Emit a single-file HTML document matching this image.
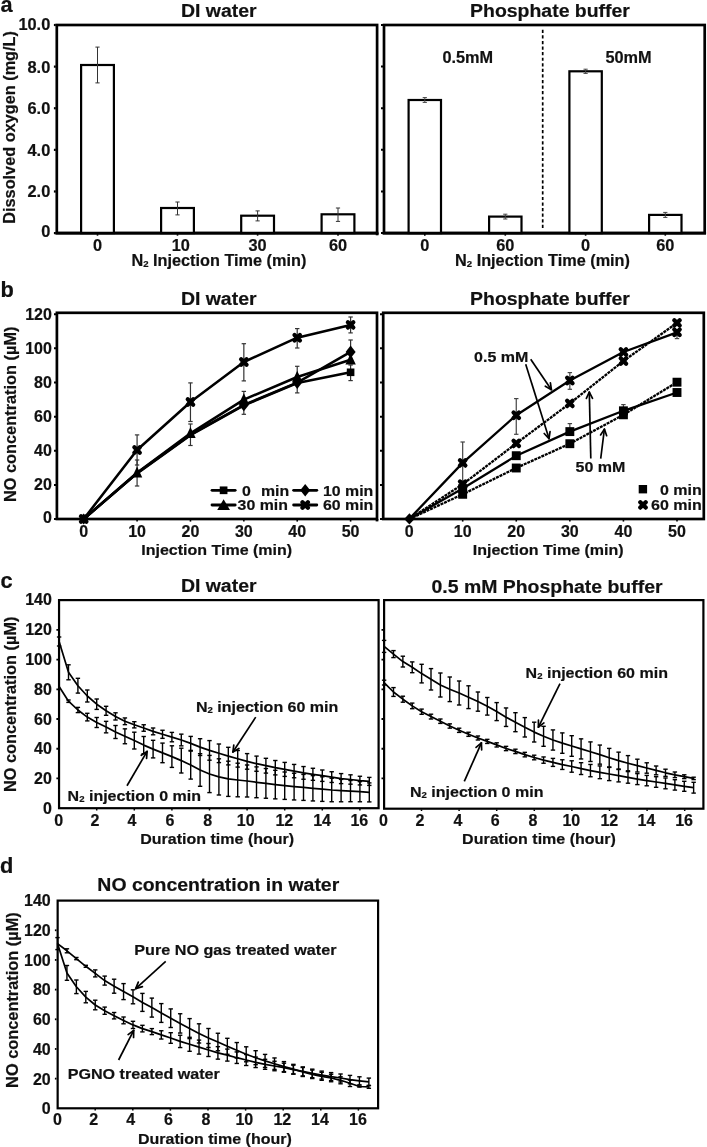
<!DOCTYPE html>
<html><head><meta charset="utf-8"><title>Figure</title>
<style>
html,body{margin:0;padding:0;background:#fff;}
body{width:707px;height:1147px;overflow:hidden;}
svg{display:block;filter:grayscale(1);}
svg text{font-family:"Liberation Sans", Arial, Helvetica, sans-serif;font-weight:bold;fill:#111;stroke:#111;stroke-width:0.2px;stroke-linejoin:round;}
</style></head><body>
<svg width="707" height="1147" viewBox="0 0 707 1147">
<rect width="707" height="1147" fill="#fff"/>
<text x="0.50" y="12.30" font-size="21.7" text-anchor="start" >a</text>
<text transform="translate(218.80,16.70) scale(1.04,1)" font-size="18.7" text-anchor="middle" >DI water</text>
<text transform="translate(550.00,16.70) scale(1.04,1)" font-size="18.7" text-anchor="middle" >Phosphate buffer</text>
<rect x="56.80" y="25.00" width="320.30" height="208.10" fill="none" stroke="#000" stroke-width="2.7"/>
<rect x="384.00" y="25.00" width="320.70" height="208.10" fill="none" stroke="#000" stroke-width="2.7"/>
<text x="50.30" y="237.10" font-size="16.4" text-anchor="end" >0</text>
<line x1="53.90" y1="233.10" x2="55.80" y2="233.10" stroke="#000" stroke-width="2.2" />
<line x1="381.00" y1="233.10" x2="383.00" y2="233.10" stroke="#000" stroke-width="2.0" />
<text x="50.30" y="197.38" font-size="16.4" text-anchor="end" >2.0</text>
<line x1="53.90" y1="191.48" x2="55.80" y2="191.48" stroke="#000" stroke-width="2.2" />
<line x1="381.00" y1="191.48" x2="383.00" y2="191.48" stroke="#000" stroke-width="2.0" />
<text x="50.30" y="155.76" font-size="16.4" text-anchor="end" >4.0</text>
<line x1="53.90" y1="149.86" x2="55.80" y2="149.86" stroke="#000" stroke-width="2.2" />
<line x1="381.00" y1="149.86" x2="383.00" y2="149.86" stroke="#000" stroke-width="2.0" />
<text x="50.30" y="114.14" font-size="16.4" text-anchor="end" >6.0</text>
<line x1="53.90" y1="108.24" x2="55.80" y2="108.24" stroke="#000" stroke-width="2.2" />
<line x1="381.00" y1="108.24" x2="383.00" y2="108.24" stroke="#000" stroke-width="2.0" />
<text x="50.30" y="72.52" font-size="16.4" text-anchor="end" >8.0</text>
<line x1="53.90" y1="66.62" x2="55.80" y2="66.62" stroke="#000" stroke-width="2.2" />
<line x1="381.00" y1="66.62" x2="383.00" y2="66.62" stroke="#000" stroke-width="2.0" />
<text x="50.30" y="30.40" font-size="16.4" text-anchor="end" >10.0</text>
<line x1="53.90" y1="25.00" x2="55.80" y2="25.00" stroke="#000" stroke-width="2.2" />
<line x1="381.00" y1="25.00" x2="383.00" y2="25.00" stroke="#000" stroke-width="2.0" />
<text transform="translate(15.00,127.40) rotate(-90)" font-size="16.3" text-anchor="middle">Dissolved oxygen (mg/L)</text>
<rect x="81.10" y="65.00" width="32.80" height="168.10" fill="#fff" stroke="#000" stroke-width="2.2"/>
<line x1="97.50" y1="47.10" x2="97.50" y2="82.90" stroke="#333" stroke-width="1" />
<line x1="95.40" y1="47.10" x2="99.60" y2="47.10" stroke="#333" stroke-width="1" />
<line x1="95.40" y1="82.90" x2="99.60" y2="82.90" stroke="#333" stroke-width="1" />
<line x1="97.50" y1="234.10" x2="97.50" y2="235.70" stroke="#000" stroke-width="1.6" />
<text transform="translate(97.50,251.40) scale(1.02,1)" font-size="16.0" text-anchor="middle" >0</text>
<rect x="161.10" y="208.00" width="32.80" height="25.10" fill="#fff" stroke="#000" stroke-width="2.2"/>
<line x1="177.50" y1="202.00" x2="177.50" y2="214.90" stroke="#333" stroke-width="1" />
<line x1="175.40" y1="202.00" x2="179.60" y2="202.00" stroke="#333" stroke-width="1" />
<line x1="175.40" y1="214.90" x2="179.60" y2="214.90" stroke="#333" stroke-width="1" />
<line x1="177.50" y1="234.10" x2="177.50" y2="235.70" stroke="#000" stroke-width="1.6" />
<text transform="translate(180.70,251.40) scale(1.02,1)" font-size="16.0" text-anchor="middle" >10</text>
<rect x="241.20" y="215.70" width="32.80" height="17.40" fill="#fff" stroke="#000" stroke-width="2.2"/>
<line x1="257.60" y1="210.90" x2="257.60" y2="220.90" stroke="#333" stroke-width="1" />
<line x1="255.50" y1="210.90" x2="259.70" y2="210.90" stroke="#333" stroke-width="1" />
<line x1="255.50" y1="220.90" x2="259.70" y2="220.90" stroke="#333" stroke-width="1" />
<line x1="257.60" y1="234.10" x2="257.60" y2="235.70" stroke="#000" stroke-width="1.6" />
<text transform="translate(257.60,251.40) scale(1.02,1)" font-size="16.0" text-anchor="middle" >30</text>
<rect x="321.60" y="214.30" width="32.80" height="18.80" fill="#fff" stroke="#000" stroke-width="2.2"/>
<line x1="338.00" y1="208.00" x2="338.00" y2="221.40" stroke="#333" stroke-width="1" />
<line x1="335.90" y1="208.00" x2="340.10" y2="208.00" stroke="#333" stroke-width="1" />
<line x1="335.90" y1="221.40" x2="340.10" y2="221.40" stroke="#333" stroke-width="1" />
<line x1="338.00" y1="234.10" x2="338.00" y2="235.70" stroke="#000" stroke-width="1.6" />
<text transform="translate(338.00,251.40) scale(1.02,1)" font-size="16.0" text-anchor="middle" >60</text>
<rect x="408.60" y="100.00" width="32.40" height="133.10" fill="#fff" stroke="#000" stroke-width="2.2"/>
<line x1="424.80" y1="97.60" x2="424.80" y2="102.40" stroke="#444" stroke-width="1" />
<line x1="422.70" y1="97.60" x2="426.90" y2="97.60" stroke="#444" stroke-width="1" />
<line x1="422.70" y1="102.40" x2="426.90" y2="102.40" stroke="#444" stroke-width="1" />
<line x1="424.80" y1="234.10" x2="424.80" y2="235.70" stroke="#000" stroke-width="1.6" />
<text transform="translate(424.80,251.40) scale(1.02,1)" font-size="16.0" text-anchor="middle" >0</text>
<rect x="489.10" y="216.60" width="32.40" height="16.50" fill="#fff" stroke="#000" stroke-width="2.2"/>
<line x1="505.30" y1="214.20" x2="505.30" y2="219.00" stroke="#444" stroke-width="1" />
<line x1="503.20" y1="214.20" x2="507.40" y2="214.20" stroke="#444" stroke-width="1" />
<line x1="503.20" y1="219.00" x2="507.40" y2="219.00" stroke="#444" stroke-width="1" />
<line x1="505.30" y1="234.10" x2="505.30" y2="235.70" stroke="#000" stroke-width="1.6" />
<text transform="translate(505.30,251.40) scale(1.02,1)" font-size="16.0" text-anchor="middle" >60</text>
<rect x="569.40" y="71.30" width="32.40" height="161.80" fill="#fff" stroke="#000" stroke-width="2.2"/>
<line x1="585.60" y1="69.20" x2="585.60" y2="73.40" stroke="#444" stroke-width="1" />
<line x1="583.50" y1="69.20" x2="587.70" y2="69.20" stroke="#444" stroke-width="1" />
<line x1="583.50" y1="73.40" x2="587.70" y2="73.40" stroke="#444" stroke-width="1" />
<line x1="585.60" y1="234.10" x2="585.60" y2="235.70" stroke="#000" stroke-width="1.6" />
<text transform="translate(585.60,251.40) scale(1.02,1)" font-size="16.0" text-anchor="middle" >0</text>
<rect x="649.10" y="214.90" width="32.40" height="18.20" fill="#fff" stroke="#000" stroke-width="2.2"/>
<line x1="665.30" y1="212.40" x2="665.30" y2="217.40" stroke="#444" stroke-width="1" />
<line x1="663.20" y1="212.40" x2="667.40" y2="212.40" stroke="#444" stroke-width="1" />
<line x1="663.20" y1="217.40" x2="667.40" y2="217.40" stroke="#444" stroke-width="1" />
<line x1="665.30" y1="234.10" x2="665.30" y2="235.70" stroke="#000" stroke-width="1.6" />
<text transform="translate(665.30,251.40) scale(1.02,1)" font-size="16.0" text-anchor="middle" >60</text>
<line x1="55.65" y1="233.10" x2="378.45" y2="233.10" stroke="#000" stroke-width="2.7" />
<line x1="382.65" y1="233.10" x2="706.05" y2="233.10" stroke="#000" stroke-width="2.7" />
<line x1="377.10" y1="233.10" x2="377.10" y2="235.30" stroke="#000" stroke-width="2.7" />
<text transform="translate(218.90,266.20) scale(1.04,1)" font-size="15.65" text-anchor="middle" >N<tspan font-size="9.2" dy="1">2</tspan><tspan dy="-1"> </tspan>Injection Time (min)</text>
<text transform="translate(542.50,266.20) scale(1.04,1)" font-size="15.65" text-anchor="middle" >N<tspan font-size="9.2" dy="1">2</tspan><tspan dy="-1"> </tspan>Injection Time (min)</text>
<line x1="542.70" y1="29.80" x2="542.70" y2="229.50" stroke="#000" stroke-width="1.7" stroke-dasharray="3.2 2.37"/>
<text x="467.80" y="62.60" font-size="16.3" text-anchor="middle" >0.5mM</text>
<text x="628.50" y="62.60" font-size="16.3" text-anchor="middle" >50mM</text>
<text x="0.60" y="297.30" font-size="21.8" text-anchor="start" >b</text>
<text transform="translate(218.70,305.00) scale(1.04,1)" font-size="18.7" text-anchor="middle" >DI water</text>
<text transform="translate(550.00,305.00) scale(1.04,1)" font-size="18.7" text-anchor="middle" >Phosphate buffer</text>
<rect x="56.90" y="312.80" width="320.10" height="206.20" fill="none" stroke="#000" stroke-width="2.7"/>
<rect x="383.20" y="312.80" width="320.60" height="206.20" fill="none" stroke="#000" stroke-width="2.7"/>
<line x1="377.00" y1="519.00" x2="377.00" y2="521.40" stroke="#000" stroke-width="2.7" />
<text x="51.90" y="523.40" font-size="16.0" text-anchor="end" >0</text>
<line x1="54.00" y1="519.10" x2="56.00" y2="519.10" stroke="#000" stroke-width="2.0" />
<line x1="380.00" y1="519.10" x2="382.00" y2="519.10" stroke="#000" stroke-width="2.0" />
<text x="51.90" y="490.45" font-size="16.0" text-anchor="end" >20</text>
<line x1="54.00" y1="484.95" x2="56.00" y2="484.95" stroke="#000" stroke-width="2.0" />
<line x1="380.00" y1="484.95" x2="382.00" y2="484.95" stroke="#000" stroke-width="2.0" />
<text x="51.90" y="456.30" font-size="16.0" text-anchor="end" >40</text>
<line x1="54.00" y1="450.80" x2="56.00" y2="450.80" stroke="#000" stroke-width="2.0" />
<line x1="380.00" y1="450.80" x2="382.00" y2="450.80" stroke="#000" stroke-width="2.0" />
<text x="51.90" y="422.15" font-size="16.0" text-anchor="end" >60</text>
<line x1="54.00" y1="416.65" x2="56.00" y2="416.65" stroke="#000" stroke-width="2.0" />
<line x1="380.00" y1="416.65" x2="382.00" y2="416.65" stroke="#000" stroke-width="2.0" />
<text x="51.90" y="388.00" font-size="16.0" text-anchor="end" >80</text>
<line x1="54.00" y1="382.50" x2="56.00" y2="382.50" stroke="#000" stroke-width="2.0" />
<line x1="380.00" y1="382.50" x2="382.00" y2="382.50" stroke="#000" stroke-width="2.0" />
<text x="51.90" y="353.85" font-size="16.0" text-anchor="end" >100</text>
<line x1="54.00" y1="348.35" x2="56.00" y2="348.35" stroke="#000" stroke-width="2.0" />
<line x1="380.00" y1="348.35" x2="382.00" y2="348.35" stroke="#000" stroke-width="2.0" />
<text x="51.90" y="319.70" font-size="16.0" text-anchor="end" >120</text>
<line x1="54.00" y1="314.20" x2="56.00" y2="314.20" stroke="#000" stroke-width="2.0" />
<line x1="380.00" y1="314.20" x2="382.00" y2="314.20" stroke="#000" stroke-width="2.0" />
<text transform="translate(16.00,414.30) rotate(-90)" font-size="16.35" text-anchor="middle">NO concentration (µM)</text>
<text x="83.70" y="536.60" font-size="16.0" text-anchor="middle" >0</text>
<line x1="83.70" y1="520.00" x2="83.70" y2="521.60" stroke="#000" stroke-width="1.6" />
<text x="137.08" y="536.60" font-size="16.0" text-anchor="middle" >10</text>
<line x1="137.08" y1="520.00" x2="137.08" y2="521.60" stroke="#000" stroke-width="1.6" />
<text x="190.46" y="536.60" font-size="16.0" text-anchor="middle" >20</text>
<line x1="190.46" y1="520.00" x2="190.46" y2="521.60" stroke="#000" stroke-width="1.6" />
<text x="243.84" y="536.60" font-size="16.0" text-anchor="middle" >30</text>
<line x1="243.84" y1="520.00" x2="243.84" y2="521.60" stroke="#000" stroke-width="1.6" />
<text x="297.22" y="536.60" font-size="16.0" text-anchor="middle" >40</text>
<line x1="297.22" y1="520.00" x2="297.22" y2="521.60" stroke="#000" stroke-width="1.6" />
<text x="350.60" y="536.60" font-size="16.0" text-anchor="middle" >50</text>
<line x1="350.60" y1="520.00" x2="350.60" y2="521.60" stroke="#000" stroke-width="1.6" />
<text x="409.10" y="536.60" font-size="16.0" text-anchor="middle" >0</text>
<line x1="409.10" y1="520.00" x2="409.10" y2="521.60" stroke="#000" stroke-width="1.6" />
<text x="462.68" y="536.60" font-size="16.0" text-anchor="middle" >10</text>
<line x1="462.68" y1="520.00" x2="462.68" y2="521.60" stroke="#000" stroke-width="1.6" />
<text x="516.26" y="536.60" font-size="16.0" text-anchor="middle" >20</text>
<line x1="516.26" y1="520.00" x2="516.26" y2="521.60" stroke="#000" stroke-width="1.6" />
<text x="569.84" y="536.60" font-size="16.0" text-anchor="middle" >30</text>
<line x1="569.84" y1="520.00" x2="569.84" y2="521.60" stroke="#000" stroke-width="1.6" />
<text x="623.42" y="536.60" font-size="16.0" text-anchor="middle" >40</text>
<line x1="623.42" y1="520.00" x2="623.42" y2="521.60" stroke="#000" stroke-width="1.6" />
<text x="677.00" y="536.60" font-size="16.0" text-anchor="middle" >50</text>
<line x1="677.00" y1="520.00" x2="677.00" y2="521.60" stroke="#000" stroke-width="1.6" />
<text transform="translate(216.70,554.50) scale(1.04,1)" font-size="15.4" text-anchor="middle" >Injection Time (min)</text>
<text transform="translate(548.20,554.50) scale(1.04,1)" font-size="15.4" text-anchor="middle" >Injection Time (min)</text>
<line x1="137.08" y1="434.90" x2="137.08" y2="465.00" stroke="#333" stroke-width="1.2" />
<line x1="134.88" y1="434.90" x2="139.28" y2="434.90" stroke="#333" stroke-width="1.2" />
<line x1="134.88" y1="465.00" x2="139.28" y2="465.00" stroke="#333" stroke-width="1.2" />
<line x1="190.46" y1="382.90" x2="190.46" y2="421.50" stroke="#333" stroke-width="1.2" />
<line x1="188.26" y1="382.90" x2="192.66" y2="382.90" stroke="#333" stroke-width="1.2" />
<line x1="188.26" y1="421.50" x2="192.66" y2="421.50" stroke="#333" stroke-width="1.2" />
<line x1="243.84" y1="343.70" x2="243.84" y2="380.90" stroke="#333" stroke-width="1.2" />
<line x1="241.64" y1="343.70" x2="246.04" y2="343.70" stroke="#333" stroke-width="1.2" />
<line x1="241.64" y1="380.90" x2="246.04" y2="380.90" stroke="#333" stroke-width="1.2" />
<line x1="297.22" y1="328.60" x2="297.22" y2="348.00" stroke="#333" stroke-width="1.2" />
<line x1="295.02" y1="328.60" x2="299.42" y2="328.60" stroke="#333" stroke-width="1.2" />
<line x1="295.02" y1="348.00" x2="299.42" y2="348.00" stroke="#333" stroke-width="1.2" />
<line x1="350.60" y1="317.00" x2="350.60" y2="332.90" stroke="#333" stroke-width="1.2" />
<line x1="348.40" y1="317.00" x2="352.80" y2="317.00" stroke="#333" stroke-width="1.2" />
<line x1="348.40" y1="332.90" x2="352.80" y2="332.90" stroke="#333" stroke-width="1.2" />
<line x1="137.08" y1="460.00" x2="137.08" y2="486.00" stroke="#333" stroke-width="1.2" />
<line x1="134.88" y1="460.00" x2="139.28" y2="460.00" stroke="#333" stroke-width="1.2" />
<line x1="134.88" y1="486.00" x2="139.28" y2="486.00" stroke="#333" stroke-width="1.2" />
<line x1="190.46" y1="424.00" x2="190.46" y2="445.50" stroke="#333" stroke-width="1.2" />
<line x1="188.26" y1="424.00" x2="192.66" y2="424.00" stroke="#333" stroke-width="1.2" />
<line x1="188.26" y1="445.50" x2="192.66" y2="445.50" stroke="#333" stroke-width="1.2" />
<line x1="243.84" y1="391.40" x2="243.84" y2="414.30" stroke="#333" stroke-width="1.2" />
<line x1="241.64" y1="391.40" x2="246.04" y2="391.40" stroke="#333" stroke-width="1.2" />
<line x1="241.64" y1="414.30" x2="246.04" y2="414.30" stroke="#333" stroke-width="1.2" />
<line x1="297.22" y1="366.30" x2="297.22" y2="392.90" stroke="#333" stroke-width="1.2" />
<line x1="295.02" y1="366.30" x2="299.42" y2="366.30" stroke="#333" stroke-width="1.2" />
<line x1="295.02" y1="392.90" x2="299.42" y2="392.90" stroke="#333" stroke-width="1.2" />
<line x1="350.60" y1="340.00" x2="350.60" y2="362.00" stroke="#333" stroke-width="1.2" />
<line x1="348.40" y1="340.00" x2="352.80" y2="340.00" stroke="#333" stroke-width="1.2" />
<line x1="348.40" y1="362.00" x2="352.80" y2="362.00" stroke="#333" stroke-width="1.2" />
<line x1="350.60" y1="365.00" x2="350.60" y2="380.60" stroke="#333" stroke-width="1.2" />
<line x1="348.40" y1="365.00" x2="352.80" y2="365.00" stroke="#333" stroke-width="1.2" />
<line x1="348.40" y1="380.60" x2="352.80" y2="380.60" stroke="#333" stroke-width="1.2" />
<polyline points="83.70,519.00 137.08,473.40 190.46,435.20 243.84,405.40 297.22,383.00 350.60,372.30" fill="none" stroke="#000" stroke-width="2.55" stroke-linejoin="round" />
<polyline points="83.70,519.00 137.08,472.70 190.46,433.40 243.84,399.60 297.22,377.00 350.60,359.70" fill="none" stroke="#000" stroke-width="2.55" stroke-linejoin="round" />
<polyline points="83.70,519.00 137.08,473.00 190.46,434.60 243.84,405.00 297.22,382.60 350.60,351.90" fill="none" stroke="#000" stroke-width="2.55" stroke-linejoin="round" />
<polyline points="83.70,519.00 137.08,450.00 190.46,402.00 243.84,362.00 297.22,337.70 350.60,324.90" fill="none" stroke="#000" stroke-width="2.55" stroke-linejoin="round" />
<rect x="346.80" y="368.50" width="7.6" height="7.6" fill="#000"/>
<polygon points="78.70,519.00 83.70,513.40 88.70,519.00 83.70,524.60" fill="#000"/>
<polygon points="238.84,405.00 243.84,398.70 248.84,405.00 243.84,411.30" fill="#000"/>
<polygon points="292.22,382.60 297.22,376.30 302.22,382.60 297.22,388.90" fill="#000"/>
<polygon points="345.60,351.90 350.60,345.60 355.60,351.90 350.60,358.20" fill="#000"/>
<polygon points="131.88,477.40 137.08,466.40 142.28,477.40" fill="#000"/>
<polygon points="185.26,438.10 190.46,427.10 195.66,438.10" fill="#000"/>
<polygon points="238.64,404.30 243.84,393.30 249.04,404.30" fill="#000"/>
<polygon points="292.02,381.70 297.22,370.70 302.42,381.70" fill="#000"/>
<polygon points="345.40,364.40 350.60,353.40 355.80,364.40" fill="#000"/>
<line x1="81.00" y1="516.30" x2="86.40" y2="521.70" stroke="#000" stroke-width="4.3" stroke-linecap="round"/>
<line x1="81.00" y1="521.70" x2="86.40" y2="516.30" stroke="#000" stroke-width="4.3" stroke-linecap="round"/>
<line x1="134.38" y1="447.30" x2="139.78" y2="452.70" stroke="#000" stroke-width="4.3" stroke-linecap="round"/>
<line x1="134.38" y1="452.70" x2="139.78" y2="447.30" stroke="#000" stroke-width="4.3" stroke-linecap="round"/>
<line x1="187.76" y1="399.30" x2="193.16" y2="404.70" stroke="#000" stroke-width="4.3" stroke-linecap="round"/>
<line x1="187.76" y1="404.70" x2="193.16" y2="399.30" stroke="#000" stroke-width="4.3" stroke-linecap="round"/>
<line x1="241.14" y1="359.30" x2="246.54" y2="364.70" stroke="#000" stroke-width="4.3" stroke-linecap="round"/>
<line x1="241.14" y1="364.70" x2="246.54" y2="359.30" stroke="#000" stroke-width="4.3" stroke-linecap="round"/>
<line x1="294.52" y1="335.00" x2="299.92" y2="340.40" stroke="#000" stroke-width="4.3" stroke-linecap="round"/>
<line x1="294.52" y1="340.40" x2="299.92" y2="335.00" stroke="#000" stroke-width="4.3" stroke-linecap="round"/>
<line x1="347.90" y1="322.20" x2="353.30" y2="327.60" stroke="#000" stroke-width="4.3" stroke-linecap="round"/>
<line x1="347.90" y1="327.60" x2="353.30" y2="322.20" stroke="#000" stroke-width="4.3" stroke-linecap="round"/>
<line x1="212.00" y1="490.30" x2="235.20" y2="490.30" stroke="#000" stroke-width="2.8" stroke-linecap="round"/>
<rect x="219.75" y="486.45" width="7.7" height="7.7" fill="#000"/>
<text transform="translate(242.00,495.50) scale(1.065,1)" font-size="14.9" text-anchor="start" >0</text>
<line x1="212.00" y1="505.00" x2="235.20" y2="505.00" stroke="#000" stroke-width="2.8" stroke-linecap="round"/>
<polygon points="217.20,510.00 223.60,499.30 230.00,510.00" fill="#000"/>
<text transform="translate(237.60,510.20) scale(1.065,1)" font-size="14.9" text-anchor="start" >30 min</text>
<line x1="293.60" y1="490.30" x2="316.80" y2="490.30" stroke="#000" stroke-width="2.8" stroke-linecap="round"/>
<polygon points="300.20,490.30 305.20,484.00 310.20,490.30 305.20,496.60" fill="#000"/>
<text transform="translate(323.00,495.50) scale(1.065,1)" font-size="14.9" text-anchor="start" >10 min</text>
<line x1="293.60" y1="505.00" x2="316.80" y2="505.00" stroke="#000" stroke-width="2.8" stroke-linecap="round"/>
<line x1="302.50" y1="502.30" x2="307.90" y2="507.70" stroke="#000" stroke-width="4.3" stroke-linecap="round"/>
<line x1="302.50" y1="507.70" x2="307.90" y2="502.30" stroke="#000" stroke-width="4.3" stroke-linecap="round"/>
<text transform="translate(323.00,510.20) scale(1.065,1)" font-size="14.9" text-anchor="start" >60 min</text>
<text transform="translate(261.00,495.50) scale(1.065,1)" font-size="14.9" text-anchor="start" >min</text>
<line x1="462.68" y1="442.00" x2="462.68" y2="481.00" stroke="#444" stroke-width="1.2" />
<line x1="460.48" y1="442.00" x2="464.88" y2="442.00" stroke="#444" stroke-width="1.2" />
<line x1="460.48" y1="481.00" x2="464.88" y2="481.00" stroke="#444" stroke-width="1.2" />
<line x1="516.26" y1="398.60" x2="516.26" y2="434.30" stroke="#444" stroke-width="1.2" />
<line x1="514.06" y1="398.60" x2="518.46" y2="398.60" stroke="#444" stroke-width="1.2" />
<line x1="514.06" y1="434.30" x2="518.46" y2="434.30" stroke="#444" stroke-width="1.2" />
<line x1="569.84" y1="372.60" x2="569.84" y2="389.30" stroke="#444" stroke-width="1.2" />
<line x1="567.64" y1="372.60" x2="572.04" y2="372.60" stroke="#444" stroke-width="1.2" />
<line x1="567.64" y1="389.30" x2="572.04" y2="389.30" stroke="#444" stroke-width="1.2" />
<line x1="677.00" y1="330.00" x2="677.00" y2="338.60" stroke="#444" stroke-width="1.2" />
<line x1="674.80" y1="330.00" x2="679.20" y2="330.00" stroke="#444" stroke-width="1.2" />
<line x1="674.80" y1="338.60" x2="679.20" y2="338.60" stroke="#444" stroke-width="1.2" />
<line x1="569.84" y1="423.60" x2="569.84" y2="431.00" stroke="#444" stroke-width="1.2" />
<line x1="567.64" y1="423.60" x2="572.04" y2="423.60" stroke="#444" stroke-width="1.2" />
<line x1="567.64" y1="431.00" x2="572.04" y2="431.00" stroke="#444" stroke-width="1.2" />
<line x1="623.42" y1="404.60" x2="623.42" y2="412.00" stroke="#444" stroke-width="1.2" />
<line x1="621.22" y1="404.60" x2="625.62" y2="404.60" stroke="#444" stroke-width="1.2" />
<line x1="621.22" y1="412.00" x2="625.62" y2="412.00" stroke="#444" stroke-width="1.2" />
<polyline points="409.10,519.10 462.68,488.60 516.26,455.70 569.84,431.60 623.42,410.80 677.00,392.50" fill="none" stroke="#000" stroke-width="2.3" stroke-linejoin="round" />
<polyline points="409.10,519.10 462.68,462.90 516.26,415.20 569.84,380.50 623.42,352.00 677.00,332.30" fill="none" stroke="#000" stroke-width="2.3" stroke-linejoin="round" />
<polyline points="409.10,519.10 462.68,494.30 516.26,468.00 569.84,443.70 623.42,414.80 677.00,382.20" fill="none" stroke="#000" stroke-width="2.3" stroke-linejoin="round" stroke-dasharray="3.0 0.85"/>
<polyline points="409.10,519.10 462.68,484.30 516.26,443.40 569.84,403.40 623.42,361.00 677.00,322.90" fill="none" stroke="#000" stroke-width="2.3" stroke-linejoin="round" stroke-dasharray="3.0 0.85"/>
<rect x="458.23" y="484.15" width="8.9" height="8.9" fill="#000"/>
<rect x="511.81" y="451.25" width="8.9" height="8.9" fill="#000"/>
<rect x="565.39" y="427.15" width="8.9" height="8.9" fill="#000"/>
<rect x="618.97" y="406.35" width="8.9" height="8.9" fill="#000"/>
<rect x="672.55" y="388.05" width="8.9" height="8.9" fill="#000"/>
<rect x="458.23" y="489.85" width="8.9" height="8.9" fill="#000"/>
<rect x="511.81" y="463.55" width="8.9" height="8.9" fill="#000"/>
<rect x="565.39" y="439.25" width="8.9" height="8.9" fill="#000"/>
<rect x="618.97" y="410.35" width="8.9" height="8.9" fill="#000"/>
<rect x="672.55" y="377.75" width="8.9" height="8.9" fill="#000"/>
<line x1="459.98" y1="460.20" x2="465.38" y2="465.60" stroke="#000" stroke-width="4.3" stroke-linecap="round"/>
<line x1="459.98" y1="465.60" x2="465.38" y2="460.20" stroke="#000" stroke-width="4.3" stroke-linecap="round"/>
<line x1="513.56" y1="412.50" x2="518.96" y2="417.90" stroke="#000" stroke-width="4.3" stroke-linecap="round"/>
<line x1="513.56" y1="417.90" x2="518.96" y2="412.50" stroke="#000" stroke-width="4.3" stroke-linecap="round"/>
<line x1="567.14" y1="377.80" x2="572.54" y2="383.20" stroke="#000" stroke-width="4.3" stroke-linecap="round"/>
<line x1="567.14" y1="383.20" x2="572.54" y2="377.80" stroke="#000" stroke-width="4.3" stroke-linecap="round"/>
<line x1="620.72" y1="349.30" x2="626.12" y2="354.70" stroke="#000" stroke-width="4.3" stroke-linecap="round"/>
<line x1="620.72" y1="354.70" x2="626.12" y2="349.30" stroke="#000" stroke-width="4.3" stroke-linecap="round"/>
<line x1="674.30" y1="329.60" x2="679.70" y2="335.00" stroke="#000" stroke-width="4.3" stroke-linecap="round"/>
<line x1="674.30" y1="335.00" x2="679.70" y2="329.60" stroke="#000" stroke-width="4.3" stroke-linecap="round"/>
<line x1="459.98" y1="481.60" x2="465.38" y2="487.00" stroke="#000" stroke-width="4.3" stroke-linecap="round"/>
<line x1="459.98" y1="487.00" x2="465.38" y2="481.60" stroke="#000" stroke-width="4.3" stroke-linecap="round"/>
<line x1="513.56" y1="440.70" x2="518.96" y2="446.10" stroke="#000" stroke-width="4.3" stroke-linecap="round"/>
<line x1="513.56" y1="446.10" x2="518.96" y2="440.70" stroke="#000" stroke-width="4.3" stroke-linecap="round"/>
<line x1="567.14" y1="400.70" x2="572.54" y2="406.10" stroke="#000" stroke-width="4.3" stroke-linecap="round"/>
<line x1="567.14" y1="406.10" x2="572.54" y2="400.70" stroke="#000" stroke-width="4.3" stroke-linecap="round"/>
<line x1="620.72" y1="358.30" x2="626.12" y2="363.70" stroke="#000" stroke-width="4.3" stroke-linecap="round"/>
<line x1="620.72" y1="363.70" x2="626.12" y2="358.30" stroke="#000" stroke-width="4.3" stroke-linecap="round"/>
<line x1="674.30" y1="320.20" x2="679.70" y2="325.60" stroke="#000" stroke-width="4.3" stroke-linecap="round"/>
<line x1="674.30" y1="325.60" x2="679.70" y2="320.20" stroke="#000" stroke-width="4.3" stroke-linecap="round"/>
<polygon points="404.20,518.90 409.40,513.20 414.60,518.90 409.40,524.60" fill="#000"/>
<text transform="translate(501.20,361.50) scale(1.04,1)" font-size="15.4" text-anchor="middle" >0.5 mM</text>
<line x1="530.70" y1="359.30" x2="551.40" y2="389.70" stroke="#000" stroke-width="1.7" />
<line x1="551.40" y1="389.70" x2="545.32" y2="386.23" stroke="#000" stroke-width="1.7" stroke-linecap="round"/>
<line x1="551.40" y1="389.70" x2="550.40" y2="382.77" stroke="#000" stroke-width="1.7" stroke-linecap="round"/>
<line x1="525.70" y1="364.30" x2="549.00" y2="438.60" stroke="#000" stroke-width="1.7" />
<line x1="549.00" y1="438.60" x2="544.19" y2="433.51" stroke="#000" stroke-width="1.7" stroke-linecap="round"/>
<line x1="549.00" y1="438.60" x2="550.05" y2="431.68" stroke="#000" stroke-width="1.7" stroke-linecap="round"/>
<text transform="translate(600.40,472.40) scale(1.04,1)" font-size="15.4" text-anchor="middle" >50 mM</text>
<line x1="590.80" y1="458.60" x2="589.30" y2="392.10" stroke="#000" stroke-width="1.7" />
<line x1="589.30" y1="392.10" x2="592.51" y2="398.32" stroke="#000" stroke-width="1.7" stroke-linecap="round"/>
<line x1="589.30" y1="392.10" x2="586.37" y2="398.46" stroke="#000" stroke-width="1.7" stroke-linecap="round"/>
<line x1="600.70" y1="458.60" x2="604.40" y2="429.10" stroke="#000" stroke-width="1.7" />
<line x1="604.40" y1="429.10" x2="606.66" y2="435.72" stroke="#000" stroke-width="1.7" stroke-linecap="round"/>
<line x1="604.40" y1="429.10" x2="600.57" y2="434.96" stroke="#000" stroke-width="1.7" stroke-linecap="round"/>
<rect x="638.70" y="485.00" width="8.4" height="8.4" fill="#000"/>
<text transform="translate(701.80,494.80) scale(1.04,1)" font-size="15.4" text-anchor="end" >0 min</text>
<line x1="640.30" y1="502.20" x2="645.70" y2="507.60" stroke="#000" stroke-width="4.3" stroke-linecap="round"/>
<line x1="640.30" y1="507.60" x2="645.70" y2="502.20" stroke="#000" stroke-width="4.3" stroke-linecap="round"/>
<text transform="translate(701.80,510.40) scale(1.04,1)" font-size="15.4" text-anchor="end" >60 min</text>
<text x="0.50" y="587.90" font-size="21.8" text-anchor="start" >c</text>
<text transform="translate(218.70,591.80) scale(1.04,1)" font-size="18.7" text-anchor="middle" >DI water</text>
<text transform="translate(547.00,592.80) scale(1.04,1)" font-size="18.7" text-anchor="middle" >0.5 mM Phosphate buffer</text>
<rect x="59.05" y="600.10" width="319.55" height="208.10" fill="none" stroke="#000" stroke-width="2.2"/>
<rect x="384.10" y="600.10" width="319.30" height="208.60" fill="none" stroke="#000" stroke-width="2.2"/>
<text x="51.90" y="813.95" font-size="16.0" text-anchor="end" >0</text>
<text x="51.90" y="784.14" font-size="16.0" text-anchor="end" >20</text>
<line x1="56.40" y1="778.47" x2="58.00" y2="778.47" stroke="#000" stroke-width="1.8" />
<line x1="381.50" y1="778.47" x2="383.00" y2="778.47" stroke="#000" stroke-width="1.8" />
<text x="51.90" y="754.32" font-size="16.0" text-anchor="end" >40</text>
<line x1="56.40" y1="748.74" x2="58.00" y2="748.74" stroke="#000" stroke-width="1.8" />
<line x1="381.50" y1="748.74" x2="383.00" y2="748.74" stroke="#000" stroke-width="1.8" />
<text x="51.90" y="724.51" font-size="16.0" text-anchor="end" >60</text>
<line x1="56.40" y1="719.01" x2="58.00" y2="719.01" stroke="#000" stroke-width="1.8" />
<line x1="381.50" y1="719.01" x2="383.00" y2="719.01" stroke="#000" stroke-width="1.8" />
<text x="51.90" y="694.69" font-size="16.0" text-anchor="end" >80</text>
<line x1="56.40" y1="689.29" x2="58.00" y2="689.29" stroke="#000" stroke-width="1.8" />
<line x1="381.50" y1="689.29" x2="383.00" y2="689.29" stroke="#000" stroke-width="1.8" />
<text x="51.90" y="664.88" font-size="16.0" text-anchor="end" >100</text>
<line x1="56.40" y1="659.56" x2="58.00" y2="659.56" stroke="#000" stroke-width="1.8" />
<line x1="381.50" y1="659.56" x2="383.00" y2="659.56" stroke="#000" stroke-width="1.8" />
<text x="51.90" y="635.06" font-size="16.0" text-anchor="end" >120</text>
<line x1="56.40" y1="629.83" x2="58.00" y2="629.83" stroke="#000" stroke-width="1.8" />
<line x1="381.50" y1="629.83" x2="383.00" y2="629.83" stroke="#000" stroke-width="1.8" />
<text x="51.90" y="605.25" font-size="16.0" text-anchor="end" >140</text>
<text transform="translate(16.00,704.30) rotate(-90)" font-size="16.35" text-anchor="middle">NO concentration (µM)</text>
<text x="58.60" y="825.50" font-size="16.0" text-anchor="middle" >0</text>
<text x="383.40" y="825.50" font-size="16.0" text-anchor="middle" >0</text>
<text x="94.90" y="825.50" font-size="16.0" text-anchor="middle" >2</text>
<text x="420.00" y="825.50" font-size="16.0" text-anchor="middle" >2</text>
<line x1="96.70" y1="809.00" x2="96.70" y2="810.50" stroke="#000" stroke-width="1.5" />
<line x1="421.50" y1="809.50" x2="421.50" y2="811.00" stroke="#000" stroke-width="1.5" />
<text x="132.00" y="825.50" font-size="16.0" text-anchor="middle" >4</text>
<text x="458.00" y="825.50" font-size="16.0" text-anchor="middle" >4</text>
<line x1="134.30" y1="809.00" x2="134.30" y2="810.50" stroke="#000" stroke-width="1.5" />
<line x1="459.10" y1="809.50" x2="459.10" y2="811.00" stroke="#000" stroke-width="1.5" />
<text x="170.00" y="825.50" font-size="16.0" text-anchor="middle" >6</text>
<text x="495.10" y="825.50" font-size="16.0" text-anchor="middle" >6</text>
<line x1="171.90" y1="809.00" x2="171.90" y2="810.50" stroke="#000" stroke-width="1.5" />
<line x1="496.70" y1="809.50" x2="496.70" y2="811.00" stroke="#000" stroke-width="1.5" />
<text x="207.70" y="825.50" font-size="16.0" text-anchor="middle" >8</text>
<text x="532.90" y="825.50" font-size="16.0" text-anchor="middle" >8</text>
<line x1="209.50" y1="809.00" x2="209.50" y2="810.50" stroke="#000" stroke-width="1.5" />
<line x1="534.30" y1="809.50" x2="534.30" y2="811.00" stroke="#000" stroke-width="1.5" />
<text x="245.70" y="825.50" font-size="16.0" text-anchor="middle" >10</text>
<text x="571.30" y="825.50" font-size="16.0" text-anchor="middle" >10</text>
<line x1="247.10" y1="809.00" x2="247.10" y2="810.50" stroke="#000" stroke-width="1.5" />
<line x1="571.90" y1="809.50" x2="571.90" y2="811.00" stroke="#000" stroke-width="1.5" />
<text x="284.30" y="825.50" font-size="16.0" text-anchor="middle" >12</text>
<text x="609.30" y="825.50" font-size="16.0" text-anchor="middle" >12</text>
<line x1="284.70" y1="809.00" x2="284.70" y2="810.50" stroke="#000" stroke-width="1.5" />
<line x1="609.50" y1="809.50" x2="609.50" y2="811.00" stroke="#000" stroke-width="1.5" />
<text x="322.10" y="825.50" font-size="16.0" text-anchor="middle" >14</text>
<text x="646.40" y="825.50" font-size="16.0" text-anchor="middle" >14</text>
<line x1="322.30" y1="809.00" x2="322.30" y2="810.50" stroke="#000" stroke-width="1.5" />
<line x1="647.10" y1="809.50" x2="647.10" y2="811.00" stroke="#000" stroke-width="1.5" />
<text x="359.30" y="825.50" font-size="16.0" text-anchor="middle" >16</text>
<text x="684.10" y="825.50" font-size="16.0" text-anchor="middle" >16</text>
<line x1="359.90" y1="809.00" x2="359.90" y2="810.50" stroke="#000" stroke-width="1.5" />
<line x1="684.70" y1="809.50" x2="684.70" y2="811.00" stroke="#000" stroke-width="1.5" />
<text transform="translate(217.20,843.90) scale(1.04,1)" font-size="15.4" text-anchor="middle" >Duration time (hour)</text>
<text transform="translate(539.00,843.90) scale(1.04,1)" font-size="15.4" text-anchor="middle" >Duration time (hour)</text>
<line x1="68.50" y1="700.00" x2="68.50" y2="702.40" stroke="#000" stroke-width="1.4" />
<line x1="66.30" y1="700.00" x2="70.70" y2="700.00" stroke="#000" stroke-width="1.4" />
<line x1="66.30" y1="702.40" x2="70.70" y2="702.40" stroke="#000" stroke-width="1.4" />
<line x1="77.90" y1="707.40" x2="77.90" y2="712.60" stroke="#000" stroke-width="1.4" />
<line x1="75.70" y1="707.40" x2="80.10" y2="707.40" stroke="#000" stroke-width="1.4" />
<line x1="75.70" y1="712.60" x2="80.10" y2="712.60" stroke="#000" stroke-width="1.4" />
<line x1="87.30" y1="713.30" x2="87.30" y2="720.90" stroke="#000" stroke-width="1.4" />
<line x1="85.10" y1="713.30" x2="89.50" y2="713.30" stroke="#000" stroke-width="1.4" />
<line x1="85.10" y1="720.90" x2="89.50" y2="720.90" stroke="#000" stroke-width="1.4" />
<line x1="96.70" y1="717.50" x2="96.70" y2="727.50" stroke="#000" stroke-width="1.4" />
<line x1="94.50" y1="717.50" x2="98.90" y2="717.50" stroke="#000" stroke-width="1.4" />
<line x1="94.50" y1="727.50" x2="98.90" y2="727.50" stroke="#000" stroke-width="1.4" />
<line x1="106.10" y1="721.35" x2="106.10" y2="732.85" stroke="#000" stroke-width="1.4" />
<line x1="103.90" y1="721.35" x2="108.30" y2="721.35" stroke="#000" stroke-width="1.4" />
<line x1="103.90" y1="732.85" x2="108.30" y2="732.85" stroke="#000" stroke-width="1.4" />
<line x1="115.50" y1="725.50" x2="115.50" y2="738.50" stroke="#000" stroke-width="1.4" />
<line x1="113.30" y1="725.50" x2="117.70" y2="725.50" stroke="#000" stroke-width="1.4" />
<line x1="113.30" y1="738.50" x2="117.70" y2="738.50" stroke="#000" stroke-width="1.4" />
<line x1="124.90" y1="728.85" x2="124.90" y2="743.75" stroke="#000" stroke-width="1.4" />
<line x1="122.70" y1="728.85" x2="127.10" y2="728.85" stroke="#000" stroke-width="1.4" />
<line x1="122.70" y1="743.75" x2="127.10" y2="743.75" stroke="#000" stroke-width="1.4" />
<line x1="134.30" y1="732.20" x2="134.30" y2="749.00" stroke="#000" stroke-width="1.4" />
<line x1="132.10" y1="732.20" x2="136.50" y2="732.20" stroke="#000" stroke-width="1.4" />
<line x1="132.10" y1="749.00" x2="136.50" y2="749.00" stroke="#000" stroke-width="1.4" />
<line x1="143.70" y1="736.50" x2="143.70" y2="753.70" stroke="#000" stroke-width="1.4" />
<line x1="141.50" y1="736.50" x2="145.90" y2="736.50" stroke="#000" stroke-width="1.4" />
<line x1="141.50" y1="753.70" x2="145.90" y2="753.70" stroke="#000" stroke-width="1.4" />
<line x1="153.10" y1="740.30" x2="153.10" y2="757.90" stroke="#000" stroke-width="1.4" />
<line x1="150.90" y1="740.30" x2="155.30" y2="740.30" stroke="#000" stroke-width="1.4" />
<line x1="150.90" y1="757.90" x2="155.30" y2="757.90" stroke="#000" stroke-width="1.4" />
<line x1="162.50" y1="743.10" x2="162.50" y2="762.70" stroke="#000" stroke-width="1.4" />
<line x1="160.30" y1="743.10" x2="164.70" y2="743.10" stroke="#000" stroke-width="1.4" />
<line x1="160.30" y1="762.70" x2="164.70" y2="762.70" stroke="#000" stroke-width="1.4" />
<line x1="171.90" y1="745.80" x2="171.90" y2="767.40" stroke="#000" stroke-width="1.4" />
<line x1="169.70" y1="745.80" x2="174.10" y2="745.80" stroke="#000" stroke-width="1.4" />
<line x1="169.70" y1="767.40" x2="174.10" y2="767.40" stroke="#000" stroke-width="1.4" />
<line x1="181.30" y1="748.20" x2="181.30" y2="773.00" stroke="#000" stroke-width="1.4" />
<line x1="179.10" y1="748.20" x2="183.50" y2="748.20" stroke="#000" stroke-width="1.4" />
<line x1="179.10" y1="773.00" x2="183.50" y2="773.00" stroke="#000" stroke-width="1.4" />
<line x1="190.70" y1="751.10" x2="190.70" y2="779.10" stroke="#000" stroke-width="1.4" />
<line x1="188.50" y1="751.10" x2="192.90" y2="751.10" stroke="#000" stroke-width="1.4" />
<line x1="188.50" y1="779.10" x2="192.90" y2="779.10" stroke="#000" stroke-width="1.4" />
<line x1="200.10" y1="753.70" x2="200.10" y2="786.30" stroke="#000" stroke-width="1.4" />
<line x1="197.90" y1="753.70" x2="202.30" y2="753.70" stroke="#000" stroke-width="1.4" />
<line x1="197.90" y1="786.30" x2="202.30" y2="786.30" stroke="#000" stroke-width="1.4" />
<line x1="209.50" y1="755.40" x2="209.50" y2="792.60" stroke="#000" stroke-width="1.4" />
<line x1="207.30" y1="755.40" x2="211.70" y2="755.40" stroke="#000" stroke-width="1.4" />
<line x1="207.30" y1="792.60" x2="211.70" y2="792.60" stroke="#000" stroke-width="1.4" />
<line x1="218.90" y1="758.80" x2="218.90" y2="795.00" stroke="#000" stroke-width="1.4" />
<line x1="216.70" y1="758.80" x2="221.10" y2="758.80" stroke="#000" stroke-width="1.4" />
<line x1="216.70" y1="795.00" x2="221.10" y2="795.00" stroke="#000" stroke-width="1.4" />
<line x1="228.30" y1="761.20" x2="228.30" y2="796.40" stroke="#000" stroke-width="1.4" />
<line x1="226.10" y1="761.20" x2="230.50" y2="761.20" stroke="#000" stroke-width="1.4" />
<line x1="226.10" y1="796.40" x2="230.50" y2="796.40" stroke="#000" stroke-width="1.4" />
<line x1="237.70" y1="763.20" x2="237.70" y2="796.80" stroke="#000" stroke-width="1.4" />
<line x1="235.50" y1="763.20" x2="239.90" y2="763.20" stroke="#000" stroke-width="1.4" />
<line x1="235.50" y1="796.80" x2="239.90" y2="796.80" stroke="#000" stroke-width="1.4" />
<line x1="247.10" y1="765.00" x2="247.10" y2="797.00" stroke="#000" stroke-width="1.4" />
<line x1="244.90" y1="765.00" x2="249.30" y2="765.00" stroke="#000" stroke-width="1.4" />
<line x1="244.90" y1="797.00" x2="249.30" y2="797.00" stroke="#000" stroke-width="1.4" />
<line x1="256.50" y1="766.88" x2="256.50" y2="797.72" stroke="#000" stroke-width="1.4" />
<line x1="254.30" y1="766.88" x2="258.70" y2="766.88" stroke="#000" stroke-width="1.4" />
<line x1="254.30" y1="797.72" x2="258.70" y2="797.72" stroke="#000" stroke-width="1.4" />
<line x1="265.90" y1="768.55" x2="265.90" y2="798.25" stroke="#000" stroke-width="1.4" />
<line x1="263.70" y1="768.55" x2="268.10" y2="768.55" stroke="#000" stroke-width="1.4" />
<line x1="263.70" y1="798.25" x2="268.10" y2="798.25" stroke="#000" stroke-width="1.4" />
<line x1="275.30" y1="770.33" x2="275.30" y2="798.88" stroke="#000" stroke-width="1.4" />
<line x1="273.10" y1="770.33" x2="277.50" y2="770.33" stroke="#000" stroke-width="1.4" />
<line x1="273.10" y1="798.88" x2="277.50" y2="798.88" stroke="#000" stroke-width="1.4" />
<line x1="284.70" y1="772.00" x2="284.70" y2="799.40" stroke="#000" stroke-width="1.4" />
<line x1="282.50" y1="772.00" x2="286.90" y2="772.00" stroke="#000" stroke-width="1.4" />
<line x1="282.50" y1="799.40" x2="286.90" y2="799.40" stroke="#000" stroke-width="1.4" />
<line x1="294.10" y1="773.25" x2="294.10" y2="799.95" stroke="#000" stroke-width="1.4" />
<line x1="291.90" y1="773.25" x2="296.30" y2="773.25" stroke="#000" stroke-width="1.4" />
<line x1="291.90" y1="799.95" x2="296.30" y2="799.95" stroke="#000" stroke-width="1.4" />
<line x1="303.50" y1="774.40" x2="303.50" y2="800.40" stroke="#000" stroke-width="1.4" />
<line x1="301.30" y1="774.40" x2="305.70" y2="774.40" stroke="#000" stroke-width="1.4" />
<line x1="301.30" y1="800.40" x2="305.70" y2="800.40" stroke="#000" stroke-width="1.4" />
<line x1="312.90" y1="775.65" x2="312.90" y2="800.95" stroke="#000" stroke-width="1.4" />
<line x1="310.70" y1="775.65" x2="315.10" y2="775.65" stroke="#000" stroke-width="1.4" />
<line x1="310.70" y1="800.95" x2="315.10" y2="800.95" stroke="#000" stroke-width="1.4" />
<line x1="322.30" y1="776.80" x2="322.30" y2="801.40" stroke="#000" stroke-width="1.4" />
<line x1="320.10" y1="776.80" x2="324.50" y2="776.80" stroke="#000" stroke-width="1.4" />
<line x1="320.10" y1="801.40" x2="324.50" y2="801.40" stroke="#000" stroke-width="1.4" />
<line x1="331.70" y1="778.26" x2="331.70" y2="801.74" stroke="#000" stroke-width="1.4" />
<line x1="329.50" y1="778.26" x2="333.90" y2="778.26" stroke="#000" stroke-width="1.4" />
<line x1="329.50" y1="801.74" x2="333.90" y2="801.74" stroke="#000" stroke-width="1.4" />
<line x1="341.10" y1="779.42" x2="341.10" y2="801.78" stroke="#000" stroke-width="1.4" />
<line x1="338.90" y1="779.42" x2="343.30" y2="779.42" stroke="#000" stroke-width="1.4" />
<line x1="338.90" y1="801.78" x2="343.30" y2="801.78" stroke="#000" stroke-width="1.4" />
<line x1="350.50" y1="780.48" x2="350.50" y2="801.72" stroke="#000" stroke-width="1.4" />
<line x1="348.30" y1="780.48" x2="352.70" y2="780.48" stroke="#000" stroke-width="1.4" />
<line x1="348.30" y1="801.72" x2="352.70" y2="801.72" stroke="#000" stroke-width="1.4" />
<line x1="359.90" y1="781.64" x2="359.90" y2="801.76" stroke="#000" stroke-width="1.4" />
<line x1="357.70" y1="781.64" x2="362.10" y2="781.64" stroke="#000" stroke-width="1.4" />
<line x1="357.70" y1="801.76" x2="362.10" y2="801.76" stroke="#000" stroke-width="1.4" />
<line x1="369.30" y1="782.90" x2="369.30" y2="801.90" stroke="#000" stroke-width="1.4" />
<line x1="367.10" y1="782.90" x2="371.50" y2="782.90" stroke="#000" stroke-width="1.4" />
<line x1="367.10" y1="801.90" x2="371.50" y2="801.90" stroke="#000" stroke-width="1.4" />
<polyline points="59.10,686.50 68.50,701.20 77.90,710.00 87.30,717.10 96.70,722.50 106.10,727.10 115.50,732.00 124.90,736.30 134.30,740.60 143.70,745.10 153.10,749.10 162.50,752.90 171.90,756.60 181.30,760.60 190.70,765.10 200.10,770.00 209.50,774.00 218.90,776.90 228.30,778.80 237.70,780.00 247.10,781.00 256.50,782.30 265.90,783.40 275.30,784.60 284.70,785.70 294.10,786.60 303.50,787.40 312.90,788.30 322.30,789.10 331.70,790.00 341.10,790.60 350.50,791.10 359.90,791.70 369.30,792.40" fill="none" stroke="#000" stroke-width="1.7" stroke-linejoin="round" />
<line x1="59.10" y1="637.00" x2="59.10" y2="646.00" stroke="#000" stroke-width="1.4" />
<line x1="56.90" y1="637.00" x2="61.30" y2="637.00" stroke="#000" stroke-width="1.4" />
<line x1="56.90" y1="646.00" x2="61.30" y2="646.00" stroke="#000" stroke-width="1.4" />
<line x1="68.50" y1="664.80" x2="68.50" y2="679.80" stroke="#000" stroke-width="1.4" />
<line x1="66.30" y1="664.80" x2="70.70" y2="664.80" stroke="#000" stroke-width="1.4" />
<line x1="66.30" y1="679.80" x2="70.70" y2="679.80" stroke="#000" stroke-width="1.4" />
<line x1="77.90" y1="678.30" x2="77.90" y2="693.10" stroke="#000" stroke-width="1.4" />
<line x1="75.70" y1="678.30" x2="80.10" y2="678.30" stroke="#000" stroke-width="1.4" />
<line x1="75.70" y1="693.10" x2="80.10" y2="693.10" stroke="#000" stroke-width="1.4" />
<line x1="87.30" y1="690.00" x2="87.30" y2="702.00" stroke="#000" stroke-width="1.4" />
<line x1="85.10" y1="690.00" x2="89.50" y2="690.00" stroke="#000" stroke-width="1.4" />
<line x1="85.10" y1="702.00" x2="89.50" y2="702.00" stroke="#000" stroke-width="1.4" />
<line x1="96.70" y1="699.00" x2="96.70" y2="709.40" stroke="#000" stroke-width="1.4" />
<line x1="94.50" y1="699.00" x2="98.90" y2="699.00" stroke="#000" stroke-width="1.4" />
<line x1="94.50" y1="709.40" x2="98.90" y2="709.40" stroke="#000" stroke-width="1.4" />
<line x1="106.10" y1="706.30" x2="106.10" y2="715.30" stroke="#000" stroke-width="1.4" />
<line x1="103.90" y1="706.30" x2="108.30" y2="706.30" stroke="#000" stroke-width="1.4" />
<line x1="103.90" y1="715.30" x2="108.30" y2="715.30" stroke="#000" stroke-width="1.4" />
<line x1="115.50" y1="712.80" x2="115.50" y2="720.00" stroke="#000" stroke-width="1.4" />
<line x1="113.30" y1="712.80" x2="117.70" y2="712.80" stroke="#000" stroke-width="1.4" />
<line x1="113.30" y1="720.00" x2="117.70" y2="720.00" stroke="#000" stroke-width="1.4" />
<line x1="124.90" y1="717.95" x2="124.90" y2="724.65" stroke="#000" stroke-width="1.4" />
<line x1="122.70" y1="717.95" x2="127.10" y2="717.95" stroke="#000" stroke-width="1.4" />
<line x1="122.70" y1="724.65" x2="127.10" y2="724.65" stroke="#000" stroke-width="1.4" />
<line x1="134.30" y1="721.70" x2="134.30" y2="727.90" stroke="#000" stroke-width="1.4" />
<line x1="132.10" y1="721.70" x2="136.50" y2="721.70" stroke="#000" stroke-width="1.4" />
<line x1="132.10" y1="727.90" x2="136.50" y2="727.90" stroke="#000" stroke-width="1.4" />
<line x1="143.70" y1="724.75" x2="143.70" y2="731.25" stroke="#000" stroke-width="1.4" />
<line x1="141.50" y1="724.75" x2="145.90" y2="724.75" stroke="#000" stroke-width="1.4" />
<line x1="141.50" y1="731.25" x2="145.90" y2="731.25" stroke="#000" stroke-width="1.4" />
<line x1="153.10" y1="728.00" x2="153.10" y2="734.80" stroke="#000" stroke-width="1.4" />
<line x1="150.90" y1="728.00" x2="155.30" y2="728.00" stroke="#000" stroke-width="1.4" />
<line x1="150.90" y1="734.80" x2="155.30" y2="734.80" stroke="#000" stroke-width="1.4" />
<line x1="162.50" y1="730.25" x2="162.50" y2="738.35" stroke="#000" stroke-width="1.4" />
<line x1="160.30" y1="730.25" x2="164.70" y2="730.25" stroke="#000" stroke-width="1.4" />
<line x1="160.30" y1="738.35" x2="164.70" y2="738.35" stroke="#000" stroke-width="1.4" />
<line x1="171.90" y1="732.40" x2="171.90" y2="741.80" stroke="#000" stroke-width="1.4" />
<line x1="169.70" y1="732.40" x2="174.10" y2="732.40" stroke="#000" stroke-width="1.4" />
<line x1="169.70" y1="741.80" x2="174.10" y2="741.80" stroke="#000" stroke-width="1.4" />
<line x1="181.30" y1="734.15" x2="181.30" y2="745.85" stroke="#000" stroke-width="1.4" />
<line x1="179.10" y1="734.15" x2="183.50" y2="734.15" stroke="#000" stroke-width="1.4" />
<line x1="179.10" y1="745.85" x2="183.50" y2="745.85" stroke="#000" stroke-width="1.4" />
<line x1="190.70" y1="736.40" x2="190.70" y2="750.40" stroke="#000" stroke-width="1.4" />
<line x1="188.50" y1="736.40" x2="192.90" y2="736.40" stroke="#000" stroke-width="1.4" />
<line x1="188.50" y1="750.40" x2="192.90" y2="750.40" stroke="#000" stroke-width="1.4" />
<line x1="200.10" y1="738.70" x2="200.10" y2="755.50" stroke="#000" stroke-width="1.4" />
<line x1="197.90" y1="738.70" x2="202.30" y2="738.70" stroke="#000" stroke-width="1.4" />
<line x1="197.90" y1="755.50" x2="202.30" y2="755.50" stroke="#000" stroke-width="1.4" />
<line x1="209.50" y1="740.60" x2="209.50" y2="760.20" stroke="#000" stroke-width="1.4" />
<line x1="207.30" y1="740.60" x2="211.70" y2="740.60" stroke="#000" stroke-width="1.4" />
<line x1="207.30" y1="760.20" x2="211.70" y2="760.20" stroke="#000" stroke-width="1.4" />
<line x1="218.90" y1="744.00" x2="218.90" y2="762.60" stroke="#000" stroke-width="1.4" />
<line x1="216.70" y1="744.00" x2="221.10" y2="744.00" stroke="#000" stroke-width="1.4" />
<line x1="216.70" y1="762.60" x2="221.10" y2="762.60" stroke="#000" stroke-width="1.4" />
<line x1="228.30" y1="747.30" x2="228.30" y2="764.90" stroke="#000" stroke-width="1.4" />
<line x1="226.10" y1="747.30" x2="230.50" y2="747.30" stroke="#000" stroke-width="1.4" />
<line x1="226.10" y1="764.90" x2="230.50" y2="764.90" stroke="#000" stroke-width="1.4" />
<line x1="237.70" y1="750.50" x2="237.70" y2="767.10" stroke="#000" stroke-width="1.4" />
<line x1="235.50" y1="750.50" x2="239.90" y2="750.50" stroke="#000" stroke-width="1.4" />
<line x1="235.50" y1="767.10" x2="239.90" y2="767.10" stroke="#000" stroke-width="1.4" />
<line x1="247.10" y1="753.60" x2="247.10" y2="769.20" stroke="#000" stroke-width="1.4" />
<line x1="244.90" y1="753.60" x2="249.30" y2="753.60" stroke="#000" stroke-width="1.4" />
<line x1="244.90" y1="769.20" x2="249.30" y2="769.20" stroke="#000" stroke-width="1.4" />
<line x1="256.50" y1="756.10" x2="256.50" y2="771.30" stroke="#000" stroke-width="1.4" />
<line x1="254.30" y1="756.10" x2="258.70" y2="756.10" stroke="#000" stroke-width="1.4" />
<line x1="254.30" y1="771.30" x2="258.70" y2="771.30" stroke="#000" stroke-width="1.4" />
<line x1="265.90" y1="758.30" x2="265.90" y2="773.10" stroke="#000" stroke-width="1.4" />
<line x1="263.70" y1="758.30" x2="268.10" y2="758.30" stroke="#000" stroke-width="1.4" />
<line x1="263.70" y1="773.10" x2="268.10" y2="773.10" stroke="#000" stroke-width="1.4" />
<line x1="275.30" y1="760.50" x2="275.30" y2="774.90" stroke="#000" stroke-width="1.4" />
<line x1="273.10" y1="760.50" x2="277.50" y2="760.50" stroke="#000" stroke-width="1.4" />
<line x1="273.10" y1="774.90" x2="277.50" y2="774.90" stroke="#000" stroke-width="1.4" />
<line x1="284.70" y1="762.40" x2="284.70" y2="776.40" stroke="#000" stroke-width="1.4" />
<line x1="282.50" y1="762.40" x2="286.90" y2="762.40" stroke="#000" stroke-width="1.4" />
<line x1="282.50" y1="776.40" x2="286.90" y2="776.40" stroke="#000" stroke-width="1.4" />
<line x1="294.10" y1="764.43" x2="294.10" y2="777.77" stroke="#000" stroke-width="1.4" />
<line x1="291.90" y1="764.43" x2="296.30" y2="764.43" stroke="#000" stroke-width="1.4" />
<line x1="291.90" y1="777.77" x2="296.30" y2="777.77" stroke="#000" stroke-width="1.4" />
<line x1="303.50" y1="766.55" x2="303.50" y2="779.25" stroke="#000" stroke-width="1.4" />
<line x1="301.30" y1="766.55" x2="305.70" y2="766.55" stroke="#000" stroke-width="1.4" />
<line x1="301.30" y1="779.25" x2="305.70" y2="779.25" stroke="#000" stroke-width="1.4" />
<line x1="312.90" y1="768.27" x2="312.90" y2="780.32" stroke="#000" stroke-width="1.4" />
<line x1="310.70" y1="768.27" x2="315.10" y2="768.27" stroke="#000" stroke-width="1.4" />
<line x1="310.70" y1="780.32" x2="315.10" y2="780.32" stroke="#000" stroke-width="1.4" />
<line x1="322.30" y1="770.00" x2="322.30" y2="781.40" stroke="#000" stroke-width="1.4" />
<line x1="320.10" y1="770.00" x2="324.50" y2="770.00" stroke="#000" stroke-width="1.4" />
<line x1="320.10" y1="781.40" x2="324.50" y2="781.40" stroke="#000" stroke-width="1.4" />
<line x1="331.70" y1="771.74" x2="331.70" y2="782.46" stroke="#000" stroke-width="1.4" />
<line x1="329.50" y1="771.74" x2="333.90" y2="771.74" stroke="#000" stroke-width="1.4" />
<line x1="329.50" y1="782.46" x2="333.90" y2="782.46" stroke="#000" stroke-width="1.4" />
<line x1="341.10" y1="773.58" x2="341.10" y2="783.62" stroke="#000" stroke-width="1.4" />
<line x1="338.90" y1="773.58" x2="343.30" y2="773.58" stroke="#000" stroke-width="1.4" />
<line x1="338.90" y1="783.62" x2="343.30" y2="783.62" stroke="#000" stroke-width="1.4" />
<line x1="350.50" y1="774.82" x2="350.50" y2="784.18" stroke="#000" stroke-width="1.4" />
<line x1="348.30" y1="774.82" x2="352.70" y2="774.82" stroke="#000" stroke-width="1.4" />
<line x1="348.30" y1="784.18" x2="352.70" y2="784.18" stroke="#000" stroke-width="1.4" />
<line x1="359.90" y1="776.26" x2="359.90" y2="784.94" stroke="#000" stroke-width="1.4" />
<line x1="357.70" y1="776.26" x2="362.10" y2="776.26" stroke="#000" stroke-width="1.4" />
<line x1="357.70" y1="784.94" x2="362.10" y2="784.94" stroke="#000" stroke-width="1.4" />
<line x1="369.30" y1="777.40" x2="369.30" y2="785.40" stroke="#000" stroke-width="1.4" />
<line x1="367.10" y1="777.40" x2="371.50" y2="777.40" stroke="#000" stroke-width="1.4" />
<line x1="367.10" y1="785.40" x2="371.50" y2="785.40" stroke="#000" stroke-width="1.4" />
<polyline points="59.10,641.50 68.50,672.30 77.90,685.70 87.30,696.00 96.70,704.20 106.10,710.80 115.50,716.40 124.90,721.30 134.30,724.80 143.70,728.00 153.10,731.40 162.50,734.30 171.90,737.10 181.30,740.00 190.70,743.40 200.10,747.10 209.50,750.40 218.90,753.30 228.30,756.10 237.70,758.80 247.10,761.40 256.50,763.70 265.90,765.70 275.30,767.70 284.70,769.40 294.10,771.10 303.50,772.90 312.90,774.30 322.30,775.70 331.70,777.10 341.10,778.60 350.50,779.50 359.90,780.60 369.30,781.40" fill="none" stroke="#000" stroke-width="1.7" stroke-linejoin="round" />
<text transform="translate(67.60,801.40) scale(1.04,1)" font-size="15.4" text-anchor="start" >N<tspan font-size="9.2" dy="1">2</tspan><tspan dy="-1"> </tspan>injection 0 min</text>
<line x1="127.00" y1="785.70" x2="147.10" y2="751.40" stroke="#000" stroke-width="1.7" />
<line x1="147.10" y1="751.40" x2="146.57" y2="758.38" stroke="#000" stroke-width="1.7" stroke-linecap="round"/>
<line x1="147.10" y1="751.40" x2="141.27" y2="755.28" stroke="#000" stroke-width="1.7" stroke-linecap="round"/>
<text transform="translate(196.00,712.40) scale(1.04,1)" font-size="15.4" text-anchor="start" >N<tspan font-size="9.2" dy="1">2</tspan><tspan dy="-1"> </tspan>injection 60 min</text>
<line x1="255.70" y1="717.10" x2="232.90" y2="752.00" stroke="#000" stroke-width="1.7" />
<line x1="232.90" y1="752.00" x2="233.77" y2="745.05" stroke="#000" stroke-width="1.7" stroke-linecap="round"/>
<line x1="232.90" y1="752.00" x2="238.91" y2="748.41" stroke="#000" stroke-width="1.7" stroke-linecap="round"/>
<line x1="384.10" y1="680.20" x2="384.10" y2="685.00" stroke="#000" stroke-width="1.4" />
<line x1="381.90" y1="680.20" x2="386.30" y2="680.20" stroke="#000" stroke-width="1.4" />
<line x1="381.90" y1="685.00" x2="386.30" y2="685.00" stroke="#000" stroke-width="1.4" />
<line x1="393.48" y1="687.60" x2="393.48" y2="696.40" stroke="#000" stroke-width="1.4" />
<line x1="391.28" y1="687.60" x2="395.68" y2="687.60" stroke="#000" stroke-width="1.4" />
<line x1="391.28" y1="696.40" x2="395.68" y2="696.40" stroke="#000" stroke-width="1.4" />
<line x1="402.86" y1="696.20" x2="402.86" y2="702.20" stroke="#000" stroke-width="1.4" />
<line x1="400.66" y1="696.20" x2="405.06" y2="696.20" stroke="#000" stroke-width="1.4" />
<line x1="400.66" y1="702.20" x2="405.06" y2="702.20" stroke="#000" stroke-width="1.4" />
<line x1="412.24" y1="703.10" x2="412.24" y2="708.70" stroke="#000" stroke-width="1.4" />
<line x1="410.04" y1="703.10" x2="414.44" y2="703.10" stroke="#000" stroke-width="1.4" />
<line x1="410.04" y1="708.70" x2="414.44" y2="708.70" stroke="#000" stroke-width="1.4" />
<line x1="421.62" y1="709.10" x2="421.62" y2="714.30" stroke="#000" stroke-width="1.4" />
<line x1="419.42" y1="709.10" x2="423.82" y2="709.10" stroke="#000" stroke-width="1.4" />
<line x1="419.42" y1="714.30" x2="423.82" y2="714.30" stroke="#000" stroke-width="1.4" />
<line x1="431.00" y1="714.20" x2="431.00" y2="719.00" stroke="#000" stroke-width="1.4" />
<line x1="428.80" y1="714.20" x2="433.20" y2="714.20" stroke="#000" stroke-width="1.4" />
<line x1="428.80" y1="719.00" x2="433.20" y2="719.00" stroke="#000" stroke-width="1.4" />
<line x1="440.38" y1="719.00" x2="440.38" y2="723.40" stroke="#000" stroke-width="1.4" />
<line x1="438.18" y1="719.00" x2="442.58" y2="719.00" stroke="#000" stroke-width="1.4" />
<line x1="438.18" y1="723.40" x2="442.58" y2="723.40" stroke="#000" stroke-width="1.4" />
<line x1="449.76" y1="723.85" x2="449.76" y2="728.15" stroke="#000" stroke-width="1.4" />
<line x1="447.56" y1="723.85" x2="451.96" y2="723.85" stroke="#000" stroke-width="1.4" />
<line x1="447.56" y1="728.15" x2="451.96" y2="728.15" stroke="#000" stroke-width="1.4" />
<line x1="459.14" y1="728.20" x2="459.14" y2="732.40" stroke="#000" stroke-width="1.4" />
<line x1="456.94" y1="728.20" x2="461.34" y2="728.20" stroke="#000" stroke-width="1.4" />
<line x1="456.94" y1="732.40" x2="461.34" y2="732.40" stroke="#000" stroke-width="1.4" />
<line x1="468.52" y1="732.25" x2="468.52" y2="736.35" stroke="#000" stroke-width="1.4" />
<line x1="466.32" y1="732.25" x2="470.72" y2="732.25" stroke="#000" stroke-width="1.4" />
<line x1="466.32" y1="736.35" x2="470.72" y2="736.35" stroke="#000" stroke-width="1.4" />
<line x1="477.90" y1="736.00" x2="477.90" y2="740.00" stroke="#000" stroke-width="1.4" />
<line x1="475.70" y1="736.00" x2="480.10" y2="736.00" stroke="#000" stroke-width="1.4" />
<line x1="475.70" y1="740.00" x2="480.10" y2="740.00" stroke="#000" stroke-width="1.4" />
<line x1="487.28" y1="739.35" x2="487.28" y2="743.45" stroke="#000" stroke-width="1.4" />
<line x1="485.08" y1="739.35" x2="489.48" y2="739.35" stroke="#000" stroke-width="1.4" />
<line x1="485.08" y1="743.45" x2="489.48" y2="743.45" stroke="#000" stroke-width="1.4" />
<line x1="496.66" y1="742.80" x2="496.66" y2="747.00" stroke="#000" stroke-width="1.4" />
<line x1="494.46" y1="742.80" x2="498.86" y2="742.80" stroke="#000" stroke-width="1.4" />
<line x1="494.46" y1="747.00" x2="498.86" y2="747.00" stroke="#000" stroke-width="1.4" />
<line x1="506.04" y1="746.35" x2="506.04" y2="750.65" stroke="#000" stroke-width="1.4" />
<line x1="503.84" y1="746.35" x2="508.24" y2="746.35" stroke="#000" stroke-width="1.4" />
<line x1="503.84" y1="750.65" x2="508.24" y2="750.65" stroke="#000" stroke-width="1.4" />
<line x1="515.42" y1="749.20" x2="515.42" y2="753.60" stroke="#000" stroke-width="1.4" />
<line x1="513.22" y1="749.20" x2="517.62" y2="749.20" stroke="#000" stroke-width="1.4" />
<line x1="513.22" y1="753.60" x2="517.62" y2="753.60" stroke="#000" stroke-width="1.4" />
<line x1="524.80" y1="752.35" x2="524.80" y2="756.85" stroke="#000" stroke-width="1.4" />
<line x1="522.60" y1="752.35" x2="527.00" y2="752.35" stroke="#000" stroke-width="1.4" />
<line x1="522.60" y1="756.85" x2="527.00" y2="756.85" stroke="#000" stroke-width="1.4" />
<line x1="534.18" y1="755.20" x2="534.18" y2="759.80" stroke="#000" stroke-width="1.4" />
<line x1="531.98" y1="755.20" x2="536.38" y2="755.20" stroke="#000" stroke-width="1.4" />
<line x1="531.98" y1="759.80" x2="536.38" y2="759.80" stroke="#000" stroke-width="1.4" />
<line x1="543.56" y1="756.95" x2="543.56" y2="763.25" stroke="#000" stroke-width="1.4" />
<line x1="541.36" y1="756.95" x2="545.76" y2="756.95" stroke="#000" stroke-width="1.4" />
<line x1="541.36" y1="763.25" x2="545.76" y2="763.25" stroke="#000" stroke-width="1.4" />
<line x1="552.94" y1="758.40" x2="552.94" y2="766.40" stroke="#000" stroke-width="1.4" />
<line x1="550.74" y1="758.40" x2="555.14" y2="758.40" stroke="#000" stroke-width="1.4" />
<line x1="550.74" y1="766.40" x2="555.14" y2="766.40" stroke="#000" stroke-width="1.4" />
<line x1="562.32" y1="759.75" x2="562.32" y2="769.45" stroke="#000" stroke-width="1.4" />
<line x1="560.12" y1="759.75" x2="564.52" y2="759.75" stroke="#000" stroke-width="1.4" />
<line x1="560.12" y1="769.45" x2="564.52" y2="769.45" stroke="#000" stroke-width="1.4" />
<line x1="571.70" y1="760.80" x2="571.70" y2="772.20" stroke="#000" stroke-width="1.4" />
<line x1="569.50" y1="760.80" x2="573.90" y2="760.80" stroke="#000" stroke-width="1.4" />
<line x1="569.50" y1="772.20" x2="573.90" y2="772.20" stroke="#000" stroke-width="1.4" />
<line x1="581.08" y1="762.68" x2="581.08" y2="774.52" stroke="#000" stroke-width="1.4" />
<line x1="578.88" y1="762.68" x2="583.28" y2="762.68" stroke="#000" stroke-width="1.4" />
<line x1="578.88" y1="774.52" x2="583.28" y2="774.52" stroke="#000" stroke-width="1.4" />
<line x1="590.46" y1="764.45" x2="590.46" y2="776.75" stroke="#000" stroke-width="1.4" />
<line x1="588.26" y1="764.45" x2="592.66" y2="764.45" stroke="#000" stroke-width="1.4" />
<line x1="588.26" y1="776.75" x2="592.66" y2="776.75" stroke="#000" stroke-width="1.4" />
<line x1="599.84" y1="765.92" x2="599.84" y2="778.67" stroke="#000" stroke-width="1.4" />
<line x1="597.64" y1="765.92" x2="602.04" y2="765.92" stroke="#000" stroke-width="1.4" />
<line x1="597.64" y1="778.67" x2="602.04" y2="778.67" stroke="#000" stroke-width="1.4" />
<line x1="609.22" y1="767.40" x2="609.22" y2="780.60" stroke="#000" stroke-width="1.4" />
<line x1="607.02" y1="767.40" x2="611.42" y2="767.40" stroke="#000" stroke-width="1.4" />
<line x1="607.02" y1="780.60" x2="611.42" y2="780.60" stroke="#000" stroke-width="1.4" />
<line x1="618.60" y1="769.50" x2="618.60" y2="781.90" stroke="#000" stroke-width="1.4" />
<line x1="616.40" y1="769.50" x2="620.80" y2="769.50" stroke="#000" stroke-width="1.4" />
<line x1="616.40" y1="781.90" x2="620.80" y2="781.90" stroke="#000" stroke-width="1.4" />
<line x1="627.98" y1="771.60" x2="627.98" y2="783.20" stroke="#000" stroke-width="1.4" />
<line x1="625.78" y1="771.60" x2="630.18" y2="771.60" stroke="#000" stroke-width="1.4" />
<line x1="625.78" y1="783.20" x2="630.18" y2="783.20" stroke="#000" stroke-width="1.4" />
<line x1="637.36" y1="773.60" x2="637.36" y2="784.60" stroke="#000" stroke-width="1.4" />
<line x1="635.16" y1="773.60" x2="639.56" y2="773.60" stroke="#000" stroke-width="1.4" />
<line x1="635.16" y1="784.60" x2="639.56" y2="784.60" stroke="#000" stroke-width="1.4" />
<line x1="646.74" y1="775.40" x2="646.74" y2="785.80" stroke="#000" stroke-width="1.4" />
<line x1="644.54" y1="775.40" x2="648.94" y2="775.40" stroke="#000" stroke-width="1.4" />
<line x1="644.54" y1="785.80" x2="648.94" y2="785.80" stroke="#000" stroke-width="1.4" />
<line x1="656.12" y1="776.70" x2="656.12" y2="787.30" stroke="#000" stroke-width="1.4" />
<line x1="653.92" y1="776.70" x2="658.32" y2="776.70" stroke="#000" stroke-width="1.4" />
<line x1="653.92" y1="787.30" x2="658.32" y2="787.30" stroke="#000" stroke-width="1.4" />
<line x1="665.50" y1="778.00" x2="665.50" y2="788.80" stroke="#000" stroke-width="1.4" />
<line x1="663.30" y1="778.00" x2="667.70" y2="778.00" stroke="#000" stroke-width="1.4" />
<line x1="663.30" y1="788.80" x2="667.70" y2="788.80" stroke="#000" stroke-width="1.4" />
<line x1="674.88" y1="779.70" x2="674.88" y2="790.10" stroke="#000" stroke-width="1.4" />
<line x1="672.68" y1="779.70" x2="677.08" y2="779.70" stroke="#000" stroke-width="1.4" />
<line x1="672.68" y1="790.10" x2="677.08" y2="790.10" stroke="#000" stroke-width="1.4" />
<line x1="684.26" y1="781.30" x2="684.26" y2="791.30" stroke="#000" stroke-width="1.4" />
<line x1="682.06" y1="781.30" x2="686.46" y2="781.30" stroke="#000" stroke-width="1.4" />
<line x1="682.06" y1="791.30" x2="686.46" y2="791.30" stroke="#000" stroke-width="1.4" />
<line x1="693.64" y1="782.30" x2="693.64" y2="793.10" stroke="#000" stroke-width="1.4" />
<line x1="691.44" y1="782.30" x2="695.84" y2="782.30" stroke="#000" stroke-width="1.4" />
<line x1="691.44" y1="793.10" x2="695.84" y2="793.10" stroke="#000" stroke-width="1.4" />
<polyline points="384.10,682.60 393.48,692.00 402.86,699.20 412.24,705.90 421.62,711.70 431.00,716.60 440.38,721.20 449.76,726.00 459.14,730.30 468.52,734.30 477.90,738.00 487.28,741.40 496.66,744.90 506.04,748.50 515.42,751.40 524.80,754.60 534.18,757.50 543.56,760.10 552.94,762.40 562.32,764.60 571.70,766.50 581.08,768.60 590.46,770.60 599.84,772.30 609.22,774.00 618.60,775.70 627.98,777.40 637.36,779.10 646.74,780.60 656.12,782.00 665.50,783.40 674.88,784.90 684.26,786.30 693.64,787.70" fill="none" stroke="#000" stroke-width="1.7" stroke-linejoin="round" />
<line x1="384.10" y1="640.40" x2="384.10" y2="652.40" stroke="#000" stroke-width="1.4" />
<line x1="381.90" y1="640.40" x2="386.30" y2="640.40" stroke="#000" stroke-width="1.4" />
<line x1="381.90" y1="652.40" x2="386.30" y2="652.40" stroke="#000" stroke-width="1.4" />
<line x1="393.48" y1="650.60" x2="393.48" y2="657.60" stroke="#000" stroke-width="1.4" />
<line x1="391.28" y1="650.60" x2="395.68" y2="650.60" stroke="#000" stroke-width="1.4" />
<line x1="391.28" y1="657.60" x2="395.68" y2="657.60" stroke="#000" stroke-width="1.4" />
<line x1="402.86" y1="656.20" x2="402.86" y2="667.00" stroke="#000" stroke-width="1.4" />
<line x1="400.66" y1="656.20" x2="405.06" y2="656.20" stroke="#000" stroke-width="1.4" />
<line x1="400.66" y1="667.00" x2="405.06" y2="667.00" stroke="#000" stroke-width="1.4" />
<line x1="412.24" y1="661.90" x2="412.24" y2="672.70" stroke="#000" stroke-width="1.4" />
<line x1="410.04" y1="661.90" x2="414.44" y2="661.90" stroke="#000" stroke-width="1.4" />
<line x1="410.04" y1="672.70" x2="414.44" y2="672.70" stroke="#000" stroke-width="1.4" />
<line x1="421.62" y1="664.30" x2="421.62" y2="682.90" stroke="#000" stroke-width="1.4" />
<line x1="419.42" y1="664.30" x2="423.82" y2="664.30" stroke="#000" stroke-width="1.4" />
<line x1="419.42" y1="682.90" x2="423.82" y2="682.90" stroke="#000" stroke-width="1.4" />
<line x1="431.00" y1="668.60" x2="431.00" y2="690.00" stroke="#000" stroke-width="1.4" />
<line x1="428.80" y1="668.60" x2="433.20" y2="668.60" stroke="#000" stroke-width="1.4" />
<line x1="428.80" y1="690.00" x2="433.20" y2="690.00" stroke="#000" stroke-width="1.4" />
<line x1="440.38" y1="673.00" x2="440.38" y2="697.00" stroke="#000" stroke-width="1.4" />
<line x1="438.18" y1="673.00" x2="442.58" y2="673.00" stroke="#000" stroke-width="1.4" />
<line x1="438.18" y1="697.00" x2="442.58" y2="697.00" stroke="#000" stroke-width="1.4" />
<line x1="449.76" y1="677.00" x2="449.76" y2="701.60" stroke="#000" stroke-width="1.4" />
<line x1="447.56" y1="677.00" x2="451.96" y2="677.00" stroke="#000" stroke-width="1.4" />
<line x1="447.56" y1="701.60" x2="451.96" y2="701.60" stroke="#000" stroke-width="1.4" />
<line x1="459.14" y1="681.00" x2="459.14" y2="705.00" stroke="#000" stroke-width="1.4" />
<line x1="456.94" y1="681.00" x2="461.34" y2="681.00" stroke="#000" stroke-width="1.4" />
<line x1="456.94" y1="705.00" x2="461.34" y2="705.00" stroke="#000" stroke-width="1.4" />
<line x1="468.52" y1="685.80" x2="468.52" y2="708.60" stroke="#000" stroke-width="1.4" />
<line x1="466.32" y1="685.80" x2="470.72" y2="685.80" stroke="#000" stroke-width="1.4" />
<line x1="466.32" y1="708.60" x2="470.72" y2="708.60" stroke="#000" stroke-width="1.4" />
<line x1="477.90" y1="692.00" x2="477.90" y2="711.20" stroke="#000" stroke-width="1.4" />
<line x1="475.70" y1="692.00" x2="480.10" y2="692.00" stroke="#000" stroke-width="1.4" />
<line x1="475.70" y1="711.20" x2="480.10" y2="711.20" stroke="#000" stroke-width="1.4" />
<line x1="487.28" y1="697.50" x2="487.28" y2="715.10" stroke="#000" stroke-width="1.4" />
<line x1="485.08" y1="697.50" x2="489.48" y2="697.50" stroke="#000" stroke-width="1.4" />
<line x1="485.08" y1="715.10" x2="489.48" y2="715.10" stroke="#000" stroke-width="1.4" />
<line x1="496.66" y1="702.60" x2="496.66" y2="720.60" stroke="#000" stroke-width="1.4" />
<line x1="494.46" y1="702.60" x2="498.86" y2="702.60" stroke="#000" stroke-width="1.4" />
<line x1="494.46" y1="720.60" x2="498.86" y2="720.60" stroke="#000" stroke-width="1.4" />
<line x1="506.04" y1="707.95" x2="506.04" y2="726.45" stroke="#000" stroke-width="1.4" />
<line x1="503.84" y1="707.95" x2="508.24" y2="707.95" stroke="#000" stroke-width="1.4" />
<line x1="503.84" y1="726.45" x2="508.24" y2="726.45" stroke="#000" stroke-width="1.4" />
<line x1="515.42" y1="712.70" x2="515.42" y2="731.70" stroke="#000" stroke-width="1.4" />
<line x1="513.22" y1="712.70" x2="517.62" y2="712.70" stroke="#000" stroke-width="1.4" />
<line x1="513.22" y1="731.70" x2="517.62" y2="731.70" stroke="#000" stroke-width="1.4" />
<line x1="524.80" y1="717.60" x2="524.80" y2="737.00" stroke="#000" stroke-width="1.4" />
<line x1="522.60" y1="717.60" x2="527.00" y2="717.60" stroke="#000" stroke-width="1.4" />
<line x1="522.60" y1="737.00" x2="527.00" y2="737.00" stroke="#000" stroke-width="1.4" />
<line x1="534.18" y1="722.20" x2="534.18" y2="742.00" stroke="#000" stroke-width="1.4" />
<line x1="531.98" y1="722.20" x2="536.38" y2="722.20" stroke="#000" stroke-width="1.4" />
<line x1="531.98" y1="742.00" x2="536.38" y2="742.00" stroke="#000" stroke-width="1.4" />
<line x1="543.56" y1="726.30" x2="543.56" y2="746.30" stroke="#000" stroke-width="1.4" />
<line x1="541.36" y1="726.30" x2="545.76" y2="726.30" stroke="#000" stroke-width="1.4" />
<line x1="541.36" y1="746.30" x2="545.76" y2="746.30" stroke="#000" stroke-width="1.4" />
<line x1="552.94" y1="729.90" x2="552.94" y2="750.10" stroke="#000" stroke-width="1.4" />
<line x1="550.74" y1="729.90" x2="555.14" y2="729.90" stroke="#000" stroke-width="1.4" />
<line x1="550.74" y1="750.10" x2="555.14" y2="750.10" stroke="#000" stroke-width="1.4" />
<line x1="562.32" y1="732.90" x2="562.32" y2="753.30" stroke="#000" stroke-width="1.4" />
<line x1="560.12" y1="732.90" x2="564.52" y2="732.90" stroke="#000" stroke-width="1.4" />
<line x1="560.12" y1="753.30" x2="564.52" y2="753.30" stroke="#000" stroke-width="1.4" />
<line x1="571.70" y1="735.70" x2="571.70" y2="756.30" stroke="#000" stroke-width="1.4" />
<line x1="569.50" y1="735.70" x2="573.90" y2="735.70" stroke="#000" stroke-width="1.4" />
<line x1="569.50" y1="756.30" x2="573.90" y2="756.30" stroke="#000" stroke-width="1.4" />
<line x1="581.08" y1="738.85" x2="581.08" y2="758.95" stroke="#000" stroke-width="1.4" />
<line x1="578.88" y1="738.85" x2="583.28" y2="738.85" stroke="#000" stroke-width="1.4" />
<line x1="578.88" y1="758.95" x2="583.28" y2="758.95" stroke="#000" stroke-width="1.4" />
<line x1="590.46" y1="741.90" x2="590.46" y2="761.50" stroke="#000" stroke-width="1.4" />
<line x1="588.26" y1="741.90" x2="592.66" y2="741.90" stroke="#000" stroke-width="1.4" />
<line x1="588.26" y1="761.50" x2="592.66" y2="761.50" stroke="#000" stroke-width="1.4" />
<line x1="599.84" y1="745.05" x2="599.84" y2="764.15" stroke="#000" stroke-width="1.4" />
<line x1="597.64" y1="745.05" x2="602.04" y2="745.05" stroke="#000" stroke-width="1.4" />
<line x1="597.64" y1="764.15" x2="602.04" y2="764.15" stroke="#000" stroke-width="1.4" />
<line x1="609.22" y1="748.40" x2="609.22" y2="767.00" stroke="#000" stroke-width="1.4" />
<line x1="607.02" y1="748.40" x2="611.42" y2="748.40" stroke="#000" stroke-width="1.4" />
<line x1="607.02" y1="767.00" x2="611.42" y2="767.00" stroke="#000" stroke-width="1.4" />
<line x1="618.60" y1="752.15" x2="618.60" y2="769.05" stroke="#000" stroke-width="1.4" />
<line x1="616.40" y1="752.15" x2="620.80" y2="752.15" stroke="#000" stroke-width="1.4" />
<line x1="616.40" y1="769.05" x2="620.80" y2="769.05" stroke="#000" stroke-width="1.4" />
<line x1="627.98" y1="755.60" x2="627.98" y2="770.80" stroke="#000" stroke-width="1.4" />
<line x1="625.78" y1="755.60" x2="630.18" y2="755.60" stroke="#000" stroke-width="1.4" />
<line x1="625.78" y1="770.80" x2="630.18" y2="770.80" stroke="#000" stroke-width="1.4" />
<line x1="637.36" y1="759.20" x2="637.36" y2="772.00" stroke="#000" stroke-width="1.4" />
<line x1="635.16" y1="759.20" x2="639.56" y2="759.20" stroke="#000" stroke-width="1.4" />
<line x1="635.16" y1="772.00" x2="639.56" y2="772.00" stroke="#000" stroke-width="1.4" />
<line x1="646.74" y1="762.80" x2="646.74" y2="773.20" stroke="#000" stroke-width="1.4" />
<line x1="644.54" y1="762.80" x2="648.94" y2="762.80" stroke="#000" stroke-width="1.4" />
<line x1="644.54" y1="773.20" x2="648.94" y2="773.20" stroke="#000" stroke-width="1.4" />
<line x1="656.12" y1="766.00" x2="656.12" y2="774.80" stroke="#000" stroke-width="1.4" />
<line x1="653.92" y1="766.00" x2="658.32" y2="766.00" stroke="#000" stroke-width="1.4" />
<line x1="653.92" y1="774.80" x2="658.32" y2="774.80" stroke="#000" stroke-width="1.4" />
<line x1="665.50" y1="769.20" x2="665.50" y2="776.40" stroke="#000" stroke-width="1.4" />
<line x1="663.30" y1="769.20" x2="667.70" y2="769.20" stroke="#000" stroke-width="1.4" />
<line x1="663.30" y1="776.40" x2="667.70" y2="776.40" stroke="#000" stroke-width="1.4" />
<line x1="674.88" y1="772.00" x2="674.88" y2="777.60" stroke="#000" stroke-width="1.4" />
<line x1="672.68" y1="772.00" x2="677.08" y2="772.00" stroke="#000" stroke-width="1.4" />
<line x1="672.68" y1="777.60" x2="677.08" y2="777.60" stroke="#000" stroke-width="1.4" />
<line x1="684.26" y1="774.80" x2="684.26" y2="778.60" stroke="#000" stroke-width="1.4" />
<line x1="682.06" y1="774.80" x2="686.46" y2="774.80" stroke="#000" stroke-width="1.4" />
<line x1="682.06" y1="778.60" x2="686.46" y2="778.60" stroke="#000" stroke-width="1.4" />
<line x1="693.64" y1="777.20" x2="693.64" y2="779.60" stroke="#000" stroke-width="1.4" />
<line x1="691.44" y1="777.20" x2="695.84" y2="777.20" stroke="#000" stroke-width="1.4" />
<line x1="691.44" y1="779.60" x2="695.84" y2="779.60" stroke="#000" stroke-width="1.4" />
<polyline points="384.10,646.40 393.48,654.10 402.86,661.60 412.24,667.30 421.62,673.60 431.00,679.30 440.38,685.00 449.76,689.30 459.14,693.00 468.52,697.20 477.90,701.60 487.28,706.30 496.66,711.60 506.04,717.20 515.42,722.20 524.80,727.30 534.18,732.10 543.56,736.30 552.94,740.00 562.32,743.10 571.70,746.00 581.08,748.90 590.46,751.70 599.84,754.60 609.22,757.70 618.60,760.60 627.98,763.20 637.36,765.60 646.74,768.00 656.12,770.40 665.50,772.80 674.88,774.80 684.26,776.70 693.64,778.40" fill="none" stroke="#000" stroke-width="1.7" stroke-linejoin="round" />
<text transform="translate(525.60,678.20) scale(1.04,1)" font-size="15.4" text-anchor="start" >N<tspan font-size="9.2" dy="1">2</tspan><tspan dy="-1"> </tspan>injection 60 min</text>
<line x1="560.00" y1="683.60" x2="538.40" y2="727.20" stroke="#000" stroke-width="1.7" />
<line x1="538.40" y1="727.20" x2="538.44" y2="720.20" stroke="#000" stroke-width="1.7" stroke-linecap="round"/>
<line x1="538.40" y1="727.20" x2="543.94" y2="722.92" stroke="#000" stroke-width="1.7" stroke-linecap="round"/>
<text transform="translate(410.00,796.90) scale(1.04,1)" font-size="15.4" text-anchor="start" >N<tspan font-size="9.2" dy="1">2</tspan><tspan dy="-1"> </tspan>injection 0 min</text>
<line x1="464.30" y1="781.40" x2="481.40" y2="742.90" stroke="#000" stroke-width="1.7" />
<line x1="481.40" y1="742.90" x2="481.65" y2="749.90" stroke="#000" stroke-width="1.7" stroke-linecap="round"/>
<line x1="481.40" y1="742.90" x2="476.04" y2="747.40" stroke="#000" stroke-width="1.7" stroke-linecap="round"/>
<text x="0.00" y="873.20" font-size="21.8" text-anchor="start" >d</text>
<text transform="translate(218.30,890.90) scale(1.04,1)" font-size="18.7" text-anchor="middle" >NO concentration in water</text>
<rect x="57.65" y="900.60" width="320.45" height="207.70" fill="none" stroke="#000" stroke-width="2.2"/>
<text x="50.70" y="1114.35" font-size="16.0" text-anchor="end" >0</text>
<text x="50.70" y="1084.59" font-size="16.0" text-anchor="end" >20</text>
<line x1="54.90" y1="1078.63" x2="56.50" y2="1078.63" stroke="#000" stroke-width="1.8" />
<text x="50.70" y="1054.84" font-size="16.0" text-anchor="end" >40</text>
<line x1="54.90" y1="1048.96" x2="56.50" y2="1048.96" stroke="#000" stroke-width="1.8" />
<text x="50.70" y="1025.08" font-size="16.0" text-anchor="end" >60</text>
<line x1="54.90" y1="1019.29" x2="56.50" y2="1019.29" stroke="#000" stroke-width="1.8" />
<text x="50.70" y="995.32" font-size="16.0" text-anchor="end" >80</text>
<line x1="54.90" y1="989.61" x2="56.50" y2="989.61" stroke="#000" stroke-width="1.8" />
<text x="50.70" y="965.56" font-size="16.0" text-anchor="end" >100</text>
<line x1="54.90" y1="959.94" x2="56.50" y2="959.94" stroke="#000" stroke-width="1.8" />
<text x="50.70" y="935.81" font-size="16.0" text-anchor="end" >120</text>
<line x1="54.90" y1="930.27" x2="56.50" y2="930.27" stroke="#000" stroke-width="1.8" />
<text x="50.70" y="906.05" font-size="16.0" text-anchor="end" >140</text>
<text transform="translate(18.40,1000.10) rotate(-90)" font-size="16.35" text-anchor="middle">NO concentration (µM)</text>
<text x="57.40" y="1125.10" font-size="16.0" text-anchor="middle" >0</text>
<text x="93.70" y="1125.10" font-size="16.0" text-anchor="middle" >2</text>
<line x1="95.20" y1="1109.10" x2="95.20" y2="1110.60" stroke="#000" stroke-width="1.5" />
<text x="130.80" y="1125.10" font-size="16.0" text-anchor="middle" >4</text>
<line x1="132.80" y1="1109.10" x2="132.80" y2="1110.60" stroke="#000" stroke-width="1.5" />
<text x="168.50" y="1125.10" font-size="16.0" text-anchor="middle" >6</text>
<line x1="170.40" y1="1109.10" x2="170.40" y2="1110.60" stroke="#000" stroke-width="1.5" />
<text x="206.00" y="1125.10" font-size="16.0" text-anchor="middle" >8</text>
<line x1="208.00" y1="1109.10" x2="208.00" y2="1110.60" stroke="#000" stroke-width="1.5" />
<text x="244.30" y="1125.10" font-size="16.0" text-anchor="middle" >10</text>
<line x1="245.60" y1="1109.10" x2="245.60" y2="1110.60" stroke="#000" stroke-width="1.5" />
<text x="282.30" y="1125.10" font-size="16.0" text-anchor="middle" >12</text>
<line x1="283.20" y1="1109.10" x2="283.20" y2="1110.60" stroke="#000" stroke-width="1.5" />
<text x="320.00" y="1125.10" font-size="16.0" text-anchor="middle" >14</text>
<line x1="320.80" y1="1109.10" x2="320.80" y2="1110.60" stroke="#000" stroke-width="1.5" />
<text x="358.00" y="1125.10" font-size="16.0" text-anchor="middle" >16</text>
<line x1="358.40" y1="1109.10" x2="358.40" y2="1110.60" stroke="#000" stroke-width="1.5" />
<text transform="translate(214.90,1143.50) scale(1.04,1)" font-size="15.4" text-anchor="middle" >Duration time (hour)</text>
<line x1="66.94" y1="965.50" x2="66.94" y2="980.30" stroke="#000" stroke-width="1.4" />
<line x1="64.73" y1="965.50" x2="69.14" y2="965.50" stroke="#000" stroke-width="1.4" />
<line x1="64.73" y1="980.30" x2="69.14" y2="980.30" stroke="#000" stroke-width="1.4" />
<line x1="76.37" y1="980.00" x2="76.37" y2="993.60" stroke="#000" stroke-width="1.4" />
<line x1="74.17" y1="980.00" x2="78.57" y2="980.00" stroke="#000" stroke-width="1.4" />
<line x1="74.17" y1="993.60" x2="78.57" y2="993.60" stroke="#000" stroke-width="1.4" />
<line x1="85.81" y1="991.40" x2="85.81" y2="1002.80" stroke="#000" stroke-width="1.4" />
<line x1="83.61" y1="991.40" x2="88.01" y2="991.40" stroke="#000" stroke-width="1.4" />
<line x1="83.61" y1="1002.80" x2="88.01" y2="1002.80" stroke="#000" stroke-width="1.4" />
<line x1="95.24" y1="1000.20" x2="95.24" y2="1009.80" stroke="#000" stroke-width="1.4" />
<line x1="93.04" y1="1000.20" x2="97.44" y2="1000.20" stroke="#000" stroke-width="1.4" />
<line x1="93.04" y1="1009.80" x2="97.44" y2="1009.80" stroke="#000" stroke-width="1.4" />
<line x1="104.68" y1="1007.10" x2="104.68" y2="1014.30" stroke="#000" stroke-width="1.4" />
<line x1="102.48" y1="1007.10" x2="106.88" y2="1007.10" stroke="#000" stroke-width="1.4" />
<line x1="102.48" y1="1014.30" x2="106.88" y2="1014.30" stroke="#000" stroke-width="1.4" />
<line x1="114.11" y1="1012.50" x2="114.11" y2="1018.90" stroke="#000" stroke-width="1.4" />
<line x1="111.91" y1="1012.50" x2="116.31" y2="1012.50" stroke="#000" stroke-width="1.4" />
<line x1="111.91" y1="1018.90" x2="116.31" y2="1018.90" stroke="#000" stroke-width="1.4" />
<line x1="123.55" y1="1017.00" x2="123.55" y2="1023.80" stroke="#000" stroke-width="1.4" />
<line x1="121.34" y1="1017.00" x2="125.75" y2="1017.00" stroke="#000" stroke-width="1.4" />
<line x1="121.34" y1="1023.80" x2="125.75" y2="1023.80" stroke="#000" stroke-width="1.4" />
<line x1="132.98" y1="1021.30" x2="132.98" y2="1028.50" stroke="#000" stroke-width="1.4" />
<line x1="130.78" y1="1021.30" x2="135.18" y2="1021.30" stroke="#000" stroke-width="1.4" />
<line x1="130.78" y1="1028.50" x2="135.18" y2="1028.50" stroke="#000" stroke-width="1.4" />
<line x1="142.42" y1="1025.30" x2="142.42" y2="1031.90" stroke="#000" stroke-width="1.4" />
<line x1="140.22" y1="1025.30" x2="144.62" y2="1025.30" stroke="#000" stroke-width="1.4" />
<line x1="140.22" y1="1031.90" x2="144.62" y2="1031.90" stroke="#000" stroke-width="1.4" />
<line x1="151.85" y1="1028.60" x2="151.85" y2="1034.60" stroke="#000" stroke-width="1.4" />
<line x1="149.65" y1="1028.60" x2="154.05" y2="1028.60" stroke="#000" stroke-width="1.4" />
<line x1="149.65" y1="1034.60" x2="154.05" y2="1034.60" stroke="#000" stroke-width="1.4" />
<line x1="161.29" y1="1030.75" x2="161.29" y2="1039.05" stroke="#000" stroke-width="1.4" />
<line x1="159.09" y1="1030.75" x2="163.49" y2="1030.75" stroke="#000" stroke-width="1.4" />
<line x1="159.09" y1="1039.05" x2="163.49" y2="1039.05" stroke="#000" stroke-width="1.4" />
<line x1="170.72" y1="1032.70" x2="170.72" y2="1043.30" stroke="#000" stroke-width="1.4" />
<line x1="168.52" y1="1032.70" x2="172.92" y2="1032.70" stroke="#000" stroke-width="1.4" />
<line x1="168.52" y1="1043.30" x2="172.92" y2="1043.30" stroke="#000" stroke-width="1.4" />
<line x1="180.16" y1="1035.25" x2="180.16" y2="1047.55" stroke="#000" stroke-width="1.4" />
<line x1="177.96" y1="1035.25" x2="182.35" y2="1035.25" stroke="#000" stroke-width="1.4" />
<line x1="177.96" y1="1047.55" x2="182.35" y2="1047.55" stroke="#000" stroke-width="1.4" />
<line x1="189.59" y1="1037.30" x2="189.59" y2="1051.30" stroke="#000" stroke-width="1.4" />
<line x1="187.39" y1="1037.30" x2="191.79" y2="1037.30" stroke="#000" stroke-width="1.4" />
<line x1="187.39" y1="1051.30" x2="191.79" y2="1051.30" stroke="#000" stroke-width="1.4" />
<line x1="199.03" y1="1040.10" x2="199.03" y2="1054.10" stroke="#000" stroke-width="1.4" />
<line x1="196.83" y1="1040.10" x2="201.22" y2="1040.10" stroke="#000" stroke-width="1.4" />
<line x1="196.83" y1="1054.10" x2="201.22" y2="1054.10" stroke="#000" stroke-width="1.4" />
<line x1="208.46" y1="1043.50" x2="208.46" y2="1056.50" stroke="#000" stroke-width="1.4" />
<line x1="206.26" y1="1043.50" x2="210.66" y2="1043.50" stroke="#000" stroke-width="1.4" />
<line x1="206.26" y1="1056.50" x2="210.66" y2="1056.50" stroke="#000" stroke-width="1.4" />
<line x1="217.90" y1="1046.65" x2="217.90" y2="1059.15" stroke="#000" stroke-width="1.4" />
<line x1="215.70" y1="1046.65" x2="220.09" y2="1046.65" stroke="#000" stroke-width="1.4" />
<line x1="215.70" y1="1059.15" x2="220.09" y2="1059.15" stroke="#000" stroke-width="1.4" />
<line x1="227.33" y1="1049.10" x2="227.33" y2="1061.10" stroke="#000" stroke-width="1.4" />
<line x1="225.13" y1="1049.10" x2="229.53" y2="1049.10" stroke="#000" stroke-width="1.4" />
<line x1="225.13" y1="1061.10" x2="229.53" y2="1061.10" stroke="#000" stroke-width="1.4" />
<line x1="236.77" y1="1051.95" x2="236.77" y2="1063.45" stroke="#000" stroke-width="1.4" />
<line x1="234.57" y1="1051.95" x2="238.97" y2="1051.95" stroke="#000" stroke-width="1.4" />
<line x1="234.57" y1="1063.45" x2="238.97" y2="1063.45" stroke="#000" stroke-width="1.4" />
<line x1="246.20" y1="1054.50" x2="246.20" y2="1065.50" stroke="#000" stroke-width="1.4" />
<line x1="244.00" y1="1054.50" x2="248.40" y2="1054.50" stroke="#000" stroke-width="1.4" />
<line x1="244.00" y1="1065.50" x2="248.40" y2="1065.50" stroke="#000" stroke-width="1.4" />
<line x1="255.64" y1="1057.05" x2="255.64" y2="1067.55" stroke="#000" stroke-width="1.4" />
<line x1="253.44" y1="1057.05" x2="257.84" y2="1057.05" stroke="#000" stroke-width="1.4" />
<line x1="253.44" y1="1067.55" x2="257.84" y2="1067.55" stroke="#000" stroke-width="1.4" />
<line x1="265.07" y1="1059.30" x2="265.07" y2="1069.30" stroke="#000" stroke-width="1.4" />
<line x1="262.87" y1="1059.30" x2="267.27" y2="1059.30" stroke="#000" stroke-width="1.4" />
<line x1="262.87" y1="1069.30" x2="267.27" y2="1069.30" stroke="#000" stroke-width="1.4" />
<line x1="274.50" y1="1061.25" x2="274.50" y2="1070.75" stroke="#000" stroke-width="1.4" />
<line x1="272.31" y1="1061.25" x2="276.70" y2="1061.25" stroke="#000" stroke-width="1.4" />
<line x1="272.31" y1="1070.75" x2="276.70" y2="1070.75" stroke="#000" stroke-width="1.4" />
<line x1="283.94" y1="1063.20" x2="283.94" y2="1072.20" stroke="#000" stroke-width="1.4" />
<line x1="281.74" y1="1063.20" x2="286.14" y2="1063.20" stroke="#000" stroke-width="1.4" />
<line x1="281.74" y1="1072.20" x2="286.14" y2="1072.20" stroke="#000" stroke-width="1.4" />
<line x1="293.38" y1="1065.20" x2="293.38" y2="1074.20" stroke="#000" stroke-width="1.4" />
<line x1="291.18" y1="1065.20" x2="295.57" y2="1065.20" stroke="#000" stroke-width="1.4" />
<line x1="291.18" y1="1074.20" x2="295.57" y2="1074.20" stroke="#000" stroke-width="1.4" />
<line x1="302.81" y1="1066.90" x2="302.81" y2="1075.90" stroke="#000" stroke-width="1.4" />
<line x1="300.61" y1="1066.90" x2="305.01" y2="1066.90" stroke="#000" stroke-width="1.4" />
<line x1="300.61" y1="1075.90" x2="305.01" y2="1075.90" stroke="#000" stroke-width="1.4" />
<line x1="312.25" y1="1069.15" x2="312.25" y2="1077.65" stroke="#000" stroke-width="1.4" />
<line x1="310.05" y1="1069.15" x2="314.44" y2="1069.15" stroke="#000" stroke-width="1.4" />
<line x1="310.05" y1="1077.65" x2="314.44" y2="1077.65" stroke="#000" stroke-width="1.4" />
<line x1="321.68" y1="1071.10" x2="321.68" y2="1079.10" stroke="#000" stroke-width="1.4" />
<line x1="319.48" y1="1071.10" x2="323.88" y2="1071.10" stroke="#000" stroke-width="1.4" />
<line x1="319.48" y1="1079.10" x2="323.88" y2="1079.10" stroke="#000" stroke-width="1.4" />
<line x1="331.12" y1="1072.60" x2="331.12" y2="1080.60" stroke="#000" stroke-width="1.4" />
<line x1="328.92" y1="1072.60" x2="333.31" y2="1072.60" stroke="#000" stroke-width="1.4" />
<line x1="328.92" y1="1080.60" x2="333.31" y2="1080.60" stroke="#000" stroke-width="1.4" />
<line x1="340.55" y1="1074.00" x2="340.55" y2="1082.00" stroke="#000" stroke-width="1.4" />
<line x1="338.35" y1="1074.00" x2="342.75" y2="1074.00" stroke="#000" stroke-width="1.4" />
<line x1="338.35" y1="1082.00" x2="342.75" y2="1082.00" stroke="#000" stroke-width="1.4" />
<line x1="349.99" y1="1075.40" x2="349.99" y2="1083.80" stroke="#000" stroke-width="1.4" />
<line x1="347.79" y1="1075.40" x2="352.19" y2="1075.40" stroke="#000" stroke-width="1.4" />
<line x1="347.79" y1="1083.80" x2="352.19" y2="1083.80" stroke="#000" stroke-width="1.4" />
<line x1="359.42" y1="1076.80" x2="359.42" y2="1084.80" stroke="#000" stroke-width="1.4" />
<line x1="357.22" y1="1076.80" x2="361.62" y2="1076.80" stroke="#000" stroke-width="1.4" />
<line x1="357.22" y1="1084.80" x2="361.62" y2="1084.80" stroke="#000" stroke-width="1.4" />
<line x1="368.86" y1="1078.10" x2="368.86" y2="1085.50" stroke="#000" stroke-width="1.4" />
<line x1="366.66" y1="1078.10" x2="371.06" y2="1078.10" stroke="#000" stroke-width="1.4" />
<line x1="366.66" y1="1085.50" x2="371.06" y2="1085.50" stroke="#000" stroke-width="1.4" />
<polyline points="57.50,943.60 66.94,972.90 76.37,986.80 85.81,997.10 95.24,1005.00 104.68,1010.70 114.11,1015.70 123.55,1020.40 132.98,1024.90 142.42,1028.60 151.85,1031.60 161.29,1034.90 170.72,1038.00 180.16,1041.40 189.59,1044.30 199.03,1047.10 208.46,1050.00 217.90,1052.90 227.33,1055.10 236.77,1057.70 246.20,1060.00 255.64,1062.30 265.07,1064.30 274.50,1066.00 283.94,1067.70 293.38,1069.70 302.81,1071.40 312.25,1073.40 321.68,1075.10 331.12,1076.60 340.55,1078.00 349.99,1079.60 359.42,1080.80 368.86,1081.80" fill="none" stroke="#000" stroke-width="1.7" stroke-linejoin="round" />
<line x1="57.50" y1="937.60" x2="57.50" y2="949.60" stroke="#000" stroke-width="1.4" />
<line x1="55.30" y1="937.60" x2="59.70" y2="937.60" stroke="#000" stroke-width="1.4" />
<line x1="55.30" y1="949.60" x2="59.70" y2="949.60" stroke="#000" stroke-width="1.4" />
<line x1="66.94" y1="948.80" x2="66.94" y2="952.80" stroke="#000" stroke-width="1.4" />
<line x1="64.73" y1="948.80" x2="69.14" y2="948.80" stroke="#000" stroke-width="1.4" />
<line x1="64.73" y1="952.80" x2="69.14" y2="952.80" stroke="#000" stroke-width="1.4" />
<line x1="76.37" y1="957.50" x2="76.37" y2="959.70" stroke="#000" stroke-width="1.4" />
<line x1="74.17" y1="957.50" x2="78.57" y2="957.50" stroke="#000" stroke-width="1.4" />
<line x1="74.17" y1="959.70" x2="78.57" y2="959.70" stroke="#000" stroke-width="1.4" />
<line x1="85.81" y1="965.30" x2="85.81" y2="967.30" stroke="#000" stroke-width="1.4" />
<line x1="83.61" y1="965.30" x2="88.01" y2="965.30" stroke="#000" stroke-width="1.4" />
<line x1="83.61" y1="967.30" x2="88.01" y2="967.30" stroke="#000" stroke-width="1.4" />
<line x1="95.24" y1="969.90" x2="95.24" y2="976.90" stroke="#000" stroke-width="1.4" />
<line x1="93.04" y1="969.90" x2="97.44" y2="969.90" stroke="#000" stroke-width="1.4" />
<line x1="93.04" y1="976.90" x2="97.44" y2="976.90" stroke="#000" stroke-width="1.4" />
<line x1="104.68" y1="976.10" x2="104.68" y2="985.10" stroke="#000" stroke-width="1.4" />
<line x1="102.48" y1="976.10" x2="106.88" y2="976.10" stroke="#000" stroke-width="1.4" />
<line x1="102.48" y1="985.10" x2="106.88" y2="985.10" stroke="#000" stroke-width="1.4" />
<line x1="114.11" y1="979.20" x2="114.11" y2="993.20" stroke="#000" stroke-width="1.4" />
<line x1="111.91" y1="979.20" x2="116.31" y2="979.20" stroke="#000" stroke-width="1.4" />
<line x1="111.91" y1="993.20" x2="116.31" y2="993.20" stroke="#000" stroke-width="1.4" />
<line x1="123.55" y1="983.60" x2="123.55" y2="999.60" stroke="#000" stroke-width="1.4" />
<line x1="121.34" y1="983.60" x2="125.75" y2="983.60" stroke="#000" stroke-width="1.4" />
<line x1="121.34" y1="999.60" x2="125.75" y2="999.60" stroke="#000" stroke-width="1.4" />
<line x1="132.98" y1="989.80" x2="132.98" y2="1003.80" stroke="#000" stroke-width="1.4" />
<line x1="130.78" y1="989.80" x2="135.18" y2="989.80" stroke="#000" stroke-width="1.4" />
<line x1="130.78" y1="1003.80" x2="135.18" y2="1003.80" stroke="#000" stroke-width="1.4" />
<line x1="142.42" y1="993.40" x2="142.42" y2="1011.40" stroke="#000" stroke-width="1.4" />
<line x1="140.22" y1="993.40" x2="144.62" y2="993.40" stroke="#000" stroke-width="1.4" />
<line x1="140.22" y1="1011.40" x2="144.62" y2="1011.40" stroke="#000" stroke-width="1.4" />
<line x1="151.85" y1="998.10" x2="151.85" y2="1017.10" stroke="#000" stroke-width="1.4" />
<line x1="149.65" y1="998.10" x2="154.05" y2="998.10" stroke="#000" stroke-width="1.4" />
<line x1="149.65" y1="1017.10" x2="154.05" y2="1017.10" stroke="#000" stroke-width="1.4" />
<line x1="161.29" y1="1003.60" x2="161.29" y2="1022.40" stroke="#000" stroke-width="1.4" />
<line x1="159.09" y1="1003.60" x2="163.49" y2="1003.60" stroke="#000" stroke-width="1.4" />
<line x1="159.09" y1="1022.40" x2="163.49" y2="1022.40" stroke="#000" stroke-width="1.4" />
<line x1="170.72" y1="1008.90" x2="170.72" y2="1027.50" stroke="#000" stroke-width="1.4" />
<line x1="168.52" y1="1008.90" x2="172.92" y2="1008.90" stroke="#000" stroke-width="1.4" />
<line x1="168.52" y1="1027.50" x2="172.92" y2="1027.50" stroke="#000" stroke-width="1.4" />
<line x1="180.16" y1="1013.75" x2="180.16" y2="1033.05" stroke="#000" stroke-width="1.4" />
<line x1="177.96" y1="1013.75" x2="182.35" y2="1013.75" stroke="#000" stroke-width="1.4" />
<line x1="177.96" y1="1033.05" x2="182.35" y2="1033.05" stroke="#000" stroke-width="1.4" />
<line x1="189.59" y1="1018.60" x2="189.59" y2="1038.60" stroke="#000" stroke-width="1.4" />
<line x1="187.39" y1="1018.60" x2="191.79" y2="1018.60" stroke="#000" stroke-width="1.4" />
<line x1="187.39" y1="1038.60" x2="191.79" y2="1038.60" stroke="#000" stroke-width="1.4" />
<line x1="199.03" y1="1023.80" x2="199.03" y2="1043.00" stroke="#000" stroke-width="1.4" />
<line x1="196.83" y1="1023.80" x2="201.22" y2="1023.80" stroke="#000" stroke-width="1.4" />
<line x1="196.83" y1="1043.00" x2="201.22" y2="1043.00" stroke="#000" stroke-width="1.4" />
<line x1="208.46" y1="1028.50" x2="208.46" y2="1047.50" stroke="#000" stroke-width="1.4" />
<line x1="206.26" y1="1028.50" x2="210.66" y2="1028.50" stroke="#000" stroke-width="1.4" />
<line x1="206.26" y1="1047.50" x2="210.66" y2="1047.50" stroke="#000" stroke-width="1.4" />
<line x1="217.90" y1="1033.25" x2="217.90" y2="1050.75" stroke="#000" stroke-width="1.4" />
<line x1="215.70" y1="1033.25" x2="220.09" y2="1033.25" stroke="#000" stroke-width="1.4" />
<line x1="215.70" y1="1050.75" x2="220.09" y2="1050.75" stroke="#000" stroke-width="1.4" />
<line x1="227.33" y1="1038.30" x2="227.33" y2="1054.30" stroke="#000" stroke-width="1.4" />
<line x1="225.13" y1="1038.30" x2="229.53" y2="1038.30" stroke="#000" stroke-width="1.4" />
<line x1="225.13" y1="1054.30" x2="229.53" y2="1054.30" stroke="#000" stroke-width="1.4" />
<line x1="236.77" y1="1042.55" x2="236.77" y2="1058.05" stroke="#000" stroke-width="1.4" />
<line x1="234.57" y1="1042.55" x2="238.97" y2="1042.55" stroke="#000" stroke-width="1.4" />
<line x1="234.57" y1="1058.05" x2="238.97" y2="1058.05" stroke="#000" stroke-width="1.4" />
<line x1="246.20" y1="1046.80" x2="246.20" y2="1061.80" stroke="#000" stroke-width="1.4" />
<line x1="244.00" y1="1046.80" x2="248.40" y2="1046.80" stroke="#000" stroke-width="1.4" />
<line x1="244.00" y1="1061.80" x2="248.40" y2="1061.80" stroke="#000" stroke-width="1.4" />
<line x1="255.64" y1="1050.70" x2="255.64" y2="1064.70" stroke="#000" stroke-width="1.4" />
<line x1="253.44" y1="1050.70" x2="257.84" y2="1050.70" stroke="#000" stroke-width="1.4" />
<line x1="253.44" y1="1064.70" x2="257.84" y2="1064.70" stroke="#000" stroke-width="1.4" />
<line x1="265.07" y1="1054.40" x2="265.07" y2="1067.40" stroke="#000" stroke-width="1.4" />
<line x1="262.87" y1="1054.40" x2="267.27" y2="1054.40" stroke="#000" stroke-width="1.4" />
<line x1="262.87" y1="1067.40" x2="267.27" y2="1067.40" stroke="#000" stroke-width="1.4" />
<line x1="274.50" y1="1057.95" x2="274.50" y2="1069.45" stroke="#000" stroke-width="1.4" />
<line x1="272.31" y1="1057.95" x2="276.70" y2="1057.95" stroke="#000" stroke-width="1.4" />
<line x1="272.31" y1="1069.45" x2="276.70" y2="1069.45" stroke="#000" stroke-width="1.4" />
<line x1="283.94" y1="1061.60" x2="283.94" y2="1071.60" stroke="#000" stroke-width="1.4" />
<line x1="281.74" y1="1061.60" x2="286.14" y2="1061.60" stroke="#000" stroke-width="1.4" />
<line x1="281.74" y1="1071.60" x2="286.14" y2="1071.60" stroke="#000" stroke-width="1.4" />
<line x1="293.38" y1="1064.35" x2="293.38" y2="1073.85" stroke="#000" stroke-width="1.4" />
<line x1="291.18" y1="1064.35" x2="295.57" y2="1064.35" stroke="#000" stroke-width="1.4" />
<line x1="291.18" y1="1073.85" x2="295.57" y2="1073.85" stroke="#000" stroke-width="1.4" />
<line x1="302.81" y1="1067.50" x2="302.81" y2="1076.50" stroke="#000" stroke-width="1.4" />
<line x1="300.61" y1="1067.50" x2="305.01" y2="1067.50" stroke="#000" stroke-width="1.4" />
<line x1="300.61" y1="1076.50" x2="305.01" y2="1076.50" stroke="#000" stroke-width="1.4" />
<line x1="312.25" y1="1070.05" x2="312.25" y2="1078.55" stroke="#000" stroke-width="1.4" />
<line x1="310.05" y1="1070.05" x2="314.44" y2="1070.05" stroke="#000" stroke-width="1.4" />
<line x1="310.05" y1="1078.55" x2="314.44" y2="1078.55" stroke="#000" stroke-width="1.4" />
<line x1="321.68" y1="1072.30" x2="321.68" y2="1080.30" stroke="#000" stroke-width="1.4" />
<line x1="319.48" y1="1072.30" x2="323.88" y2="1072.30" stroke="#000" stroke-width="1.4" />
<line x1="319.48" y1="1080.30" x2="323.88" y2="1080.30" stroke="#000" stroke-width="1.4" />
<line x1="331.12" y1="1074.25" x2="331.12" y2="1081.75" stroke="#000" stroke-width="1.4" />
<line x1="328.92" y1="1074.25" x2="333.31" y2="1074.25" stroke="#000" stroke-width="1.4" />
<line x1="328.92" y1="1081.75" x2="333.31" y2="1081.75" stroke="#000" stroke-width="1.4" />
<line x1="340.55" y1="1076.80" x2="340.55" y2="1083.80" stroke="#000" stroke-width="1.4" />
<line x1="338.35" y1="1076.80" x2="342.75" y2="1076.80" stroke="#000" stroke-width="1.4" />
<line x1="338.35" y1="1083.80" x2="342.75" y2="1083.80" stroke="#000" stroke-width="1.4" />
<line x1="349.99" y1="1080.10" x2="349.99" y2="1086.50" stroke="#000" stroke-width="1.4" />
<line x1="347.79" y1="1080.10" x2="352.19" y2="1080.10" stroke="#000" stroke-width="1.4" />
<line x1="347.79" y1="1086.50" x2="352.19" y2="1086.50" stroke="#000" stroke-width="1.4" />
<line x1="359.42" y1="1085.90" x2="359.42" y2="1087.10" stroke="#000" stroke-width="1.4" />
<line x1="357.22" y1="1085.90" x2="361.62" y2="1085.90" stroke="#000" stroke-width="1.4" />
<line x1="357.22" y1="1087.10" x2="361.62" y2="1087.10" stroke="#000" stroke-width="1.4" />
<line x1="368.86" y1="1085.50" x2="368.86" y2="1088.30" stroke="#000" stroke-width="1.4" />
<line x1="366.66" y1="1085.50" x2="371.06" y2="1085.50" stroke="#000" stroke-width="1.4" />
<line x1="366.66" y1="1088.30" x2="371.06" y2="1088.30" stroke="#000" stroke-width="1.4" />
<polyline points="57.50,943.60 66.94,950.80 76.37,958.60 85.81,966.30 95.24,973.40 104.68,980.60 114.11,986.20 123.55,991.60 132.98,996.80 142.42,1002.40 151.85,1007.60 161.29,1013.00 170.72,1018.20 180.16,1023.40 189.59,1028.60 199.03,1033.40 208.46,1038.00 217.90,1042.00 227.33,1046.30 236.77,1050.30 246.20,1054.30 255.64,1057.70 265.07,1060.90 274.50,1063.70 283.94,1066.60 293.38,1069.10 302.81,1072.00 312.25,1074.30 321.68,1076.30 331.12,1078.00 340.55,1080.30 349.99,1083.30 359.42,1086.50 368.86,1086.90" fill="none" stroke="#000" stroke-width="1.7" stroke-linejoin="round" />
<text transform="translate(134.30,954.60) scale(1.04,1)" font-size="15.55" text-anchor="start" >Pure NO gas treated water</text>
<line x1="165.70" y1="961.40" x2="135.70" y2="988.60" stroke="#000" stroke-width="1.7" />
<line x1="135.70" y1="988.60" x2="138.30" y2="982.10" stroke="#000" stroke-width="1.7" stroke-linecap="round"/>
<line x1="135.70" y1="988.60" x2="142.42" y2="986.65" stroke="#000" stroke-width="1.7" stroke-linecap="round"/>
<text transform="translate(67.70,1078.50) scale(1.04,1)" font-size="15.5" text-anchor="start" >PGNO treated water</text>
<line x1="118.60" y1="1060.00" x2="133.70" y2="1030.40" stroke="#000" stroke-width="1.7" />
<line x1="133.70" y1="1030.40" x2="133.57" y2="1037.40" stroke="#000" stroke-width="1.7" stroke-linecap="round"/>
<line x1="133.70" y1="1030.40" x2="128.11" y2="1034.61" stroke="#000" stroke-width="1.7" stroke-linecap="round"/>
</svg>
</body></html>
